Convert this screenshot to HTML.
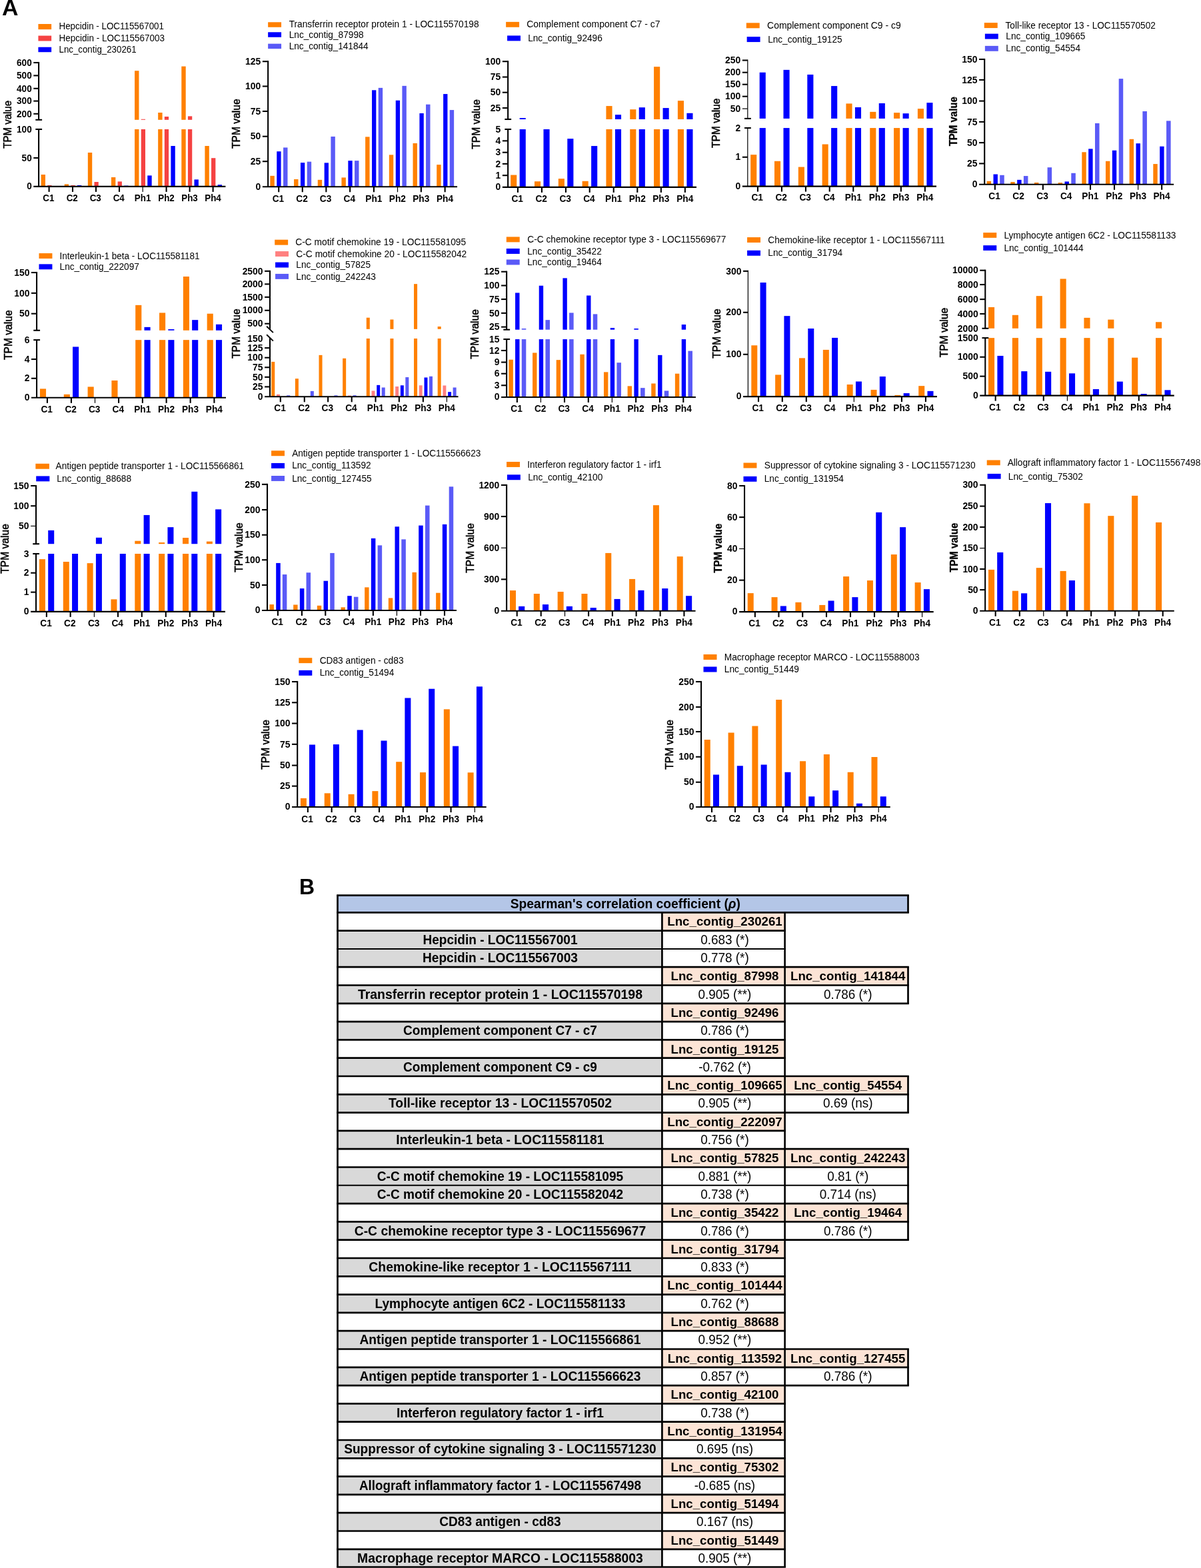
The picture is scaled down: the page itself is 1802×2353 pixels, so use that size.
<!DOCTYPE html>
<html lang="en"><head><meta charset="utf-8"><title>Figure</title>
<style>
html,body{margin:0;padding:0;background:#fff}
svg{display:block}
text{font-family:"Liberation Sans",Arial,Helvetica,sans-serif;fill:#000}
.b{font-weight:bold}
.m{stroke:#000;stroke-width:0.55px}
.m1{stroke:#000;stroke-width:0.45px}
.bb{font-weight:bold;stroke:#000;stroke-width:0.3px}
</style></head><body>
<svg width="1802" height="2353" viewBox="0 0 1802 2353">
<rect width="1802" height="2353" fill="#fff"/>
<g id="c1">
<rect x="61.6" y="262" width="6.4" height="17.9" fill="#FF8000"/>
<rect x="71.25" y="278" width="6.3" height="1.9" fill="#F54242"/>
<rect x="96.71" y="276.4" width="6.4" height="3.5" fill="#FF8000"/>
<rect x="106.36" y="278" width="6.3" height="1.9" fill="#F54242"/>
<rect x="115.91" y="278" width="6.4" height="1.9" fill="#0000FF"/>
<rect x="131.83" y="229" width="6.4" height="50.9" fill="#FF8000"/>
<rect x="141.48" y="273" width="6.3" height="6.9" fill="#F54242"/>
<rect x="166.94" y="266" width="6.4" height="13.9" fill="#FF8000"/>
<rect x="176.59" y="272.4" width="6.3" height="7.5" fill="#F54242"/>
<rect x="186.14" y="278.6" width="6.4" height="1.3" fill="#0000FF"/>
<rect x="202.06" y="194" width="6.4" height="85.9" fill="#FF8000"/>
<rect x="202.06" y="106.2" width="6.4" height="73.6" fill="#FF8000"/>
<rect x="211.71" y="194" width="6.3" height="85.9" fill="#F54242"/>
<rect x="211.71" y="178.8" width="6.3" height="1" fill="#F54242"/>
<rect x="221.26" y="263.4" width="6.4" height="16.5" fill="#0000FF"/>
<rect x="237.17" y="194" width="6.4" height="85.9" fill="#FF8000"/>
<rect x="237.17" y="169" width="6.4" height="10.8" fill="#FF8000"/>
<rect x="246.82" y="194" width="6.3" height="85.9" fill="#F54242"/>
<rect x="246.82" y="175" width="6.3" height="4.8" fill="#F54242"/>
<rect x="256.37" y="219" width="6.4" height="60.9" fill="#0000FF"/>
<rect x="272.29" y="194" width="6.4" height="85.9" fill="#FF8000"/>
<rect x="272.29" y="99.6" width="6.4" height="80.2" fill="#FF8000"/>
<rect x="281.94" y="194" width="6.3" height="85.9" fill="#F54242"/>
<rect x="281.94" y="174.4" width="6.3" height="5.4" fill="#F54242"/>
<rect x="291.49" y="269.4" width="6.4" height="10.5" fill="#0000FF"/>
<rect x="307.4" y="219" width="6.4" height="60.9" fill="#FF8000"/>
<rect x="317.05" y="237.2" width="6.3" height="42.7" fill="#F54242"/>
<rect x="326.6" y="277.2" width="6.4" height="2.7" fill="#0000FF"/>
<line x1="58.1" y1="92.95" x2="58.1" y2="179.8" stroke="#000" stroke-width="2.1"/>
<line x1="58.1" y1="194" x2="58.1" y2="279.9" stroke="#000" stroke-width="2.1"/>
<line x1="53.3" y1="179.8" x2="63.1" y2="179.8" stroke="#000" stroke-width="2.1"/>
<line x1="53.3" y1="194" x2="63.1" y2="194" stroke="#000" stroke-width="2.1"/>
<line x1="50.3" y1="279.9" x2="338.4" y2="279.9" stroke="#000" stroke-width="2.1"/>
<line x1="50.3" y1="94" x2="58.1" y2="94" stroke="#000" stroke-width="2.1"/>
<text font-size="13.6" class="b" text-anchor="end" transform="translate(47.7 98.7) scale(1 1.04)">600</text>
<line x1="50.3" y1="113.4" x2="58.1" y2="113.4" stroke="#000" stroke-width="2.1"/>
<text font-size="13.6" class="b" text-anchor="end" transform="translate(47.7 118.1) scale(1 1.04)">500</text>
<line x1="50.3" y1="132.8" x2="58.1" y2="132.8" stroke="#000" stroke-width="2.1"/>
<text font-size="13.6" class="b" text-anchor="end" transform="translate(47.7 137.5) scale(1 1.04)">400</text>
<line x1="50.3" y1="151.6" x2="58.1" y2="151.6" stroke="#000" stroke-width="2.1"/>
<text font-size="13.6" class="b" text-anchor="end" transform="translate(47.7 156.3) scale(1 1.04)">300</text>
<line x1="50.3" y1="170.8" x2="58.1" y2="170.8" stroke="#000" stroke-width="2.1"/>
<text font-size="13.6" class="b" text-anchor="end" transform="translate(47.7 175.5) scale(1 1.04)">200</text>
<text font-size="13.6" class="b" text-anchor="end" transform="translate(47.7 198.7) scale(1 1.04)">100</text>
<line x1="50.3" y1="237" x2="58.1" y2="237" stroke="#000" stroke-width="2.1"/>
<text font-size="13.6" class="b" text-anchor="end" transform="translate(47.7 241.7) scale(1 1.04)">50</text>
<text font-size="13.6" class="b" text-anchor="end" transform="translate(47.7 284.3) scale(1 1.04)">0</text>
<line x1="73.6" y1="279.9" x2="73.6" y2="287.95" stroke="#000" stroke-width="2.1"/>
<text font-size="13.4" class="b" text-anchor="middle" transform="translate(72.8 301.8) scale(1 1.04)">C1</text>
<line x1="109" y1="279.9" x2="109" y2="287.95" stroke="#000" stroke-width="2.1"/>
<text font-size="13.4" class="b" text-anchor="middle" transform="translate(108.2 301.8) scale(1 1.04)">C2</text>
<line x1="144" y1="279.9" x2="144" y2="287.95" stroke="#000" stroke-width="2.1"/>
<text font-size="13.4" class="b" text-anchor="middle" transform="translate(143.2 301.8) scale(1 1.04)">C3</text>
<line x1="179" y1="279.9" x2="179" y2="287.95" stroke="#000" stroke-width="2.1"/>
<text font-size="13.4" class="b" text-anchor="middle" transform="translate(178.2 301.8) scale(1 1.04)">C4</text>
<line x1="214.2" y1="279.9" x2="214.2" y2="287.95" stroke="#000" stroke-width="1.2"/>
<text font-size="13.4" class="b" text-anchor="middle" transform="translate(214.1 301.8) scale(1 1.04)">Ph1</text>
<line x1="249.6" y1="279.9" x2="249.6" y2="287.95" stroke="#000" stroke-width="2.1"/>
<text font-size="13.4" class="b" text-anchor="middle" transform="translate(249.5 301.8) scale(1 1.04)">Ph2</text>
<line x1="284.6" y1="279.9" x2="284.6" y2="287.95" stroke="#000" stroke-width="2.1"/>
<text font-size="13.4" class="b" text-anchor="middle" transform="translate(284.5 301.8) scale(1 1.04)">Ph3</text>
<line x1="319.6" y1="279.9" x2="319.6" y2="287.95" stroke="#000" stroke-width="2.1"/>
<text font-size="13.4" class="b" text-anchor="middle" transform="translate(319.5 301.8) scale(1 1.04)">Ph4</text>
<text font-size="15" class="m1" text-anchor="middle" transform="translate(17.25 186.85) rotate(-90) scale(1 1.04)">TPM value</text>
<rect x="57.43" y="36" width="19.71" height="8.14" fill="#FF8000"/>
<text font-size="13.39" transform="translate(88.5 44.36) scale(1 1.04)">Hepcidin - LOC115567001</text>
<rect x="57.43" y="53.57" width="19.71" height="7.93" fill="#F54242"/>
<text font-size="13.48" transform="translate(88.5 61.71) scale(1 1.04)">Hepcidin - LOC115567003</text>
<rect x="57.43" y="70.71" width="19.71" height="7.5" fill="#0000FF"/>
<text font-size="13.31" transform="translate(88.5 78.86) scale(1 1.04)">Lnc_contig_230261</text>
</g>
<g id="c2">
<rect x="405.36" y="263.86" width="6.43" height="16.37" fill="#FF8000"/>
<rect x="415.27" y="227.21" width="6.32" height="53.01" fill="#0000FF"/>
<rect x="425.07" y="221.43" width="6.43" height="58.8" fill="#5A5AF7"/>
<rect x="441.05" y="269" width="6.43" height="11.23" fill="#FF8000"/>
<rect x="450.96" y="244.14" width="6.32" height="36.09" fill="#0000FF"/>
<rect x="460.73" y="242.64" width="6.43" height="37.59" fill="#5A5AF7"/>
<rect x="476.74" y="269.86" width="6.43" height="10.37" fill="#FF8000"/>
<rect x="486.66" y="244.36" width="6.32" height="35.87" fill="#0000FF"/>
<rect x="496.4" y="204.93" width="6.43" height="75.3" fill="#5A5AF7"/>
<rect x="512.44" y="266.43" width="6.43" height="13.8" fill="#FF8000"/>
<rect x="522.35" y="241.14" width="6.32" height="39.09" fill="#0000FF"/>
<rect x="532.06" y="241.14" width="6.43" height="39.09" fill="#5A5AF7"/>
<rect x="548.13" y="205.36" width="6.43" height="74.87" fill="#FF8000"/>
<rect x="558.04" y="135.29" width="6.32" height="144.94" fill="#0000FF"/>
<rect x="567.72" y="131.86" width="6.43" height="148.37" fill="#5A5AF7"/>
<rect x="583.83" y="232.36" width="6.43" height="47.87" fill="#FF8000"/>
<rect x="593.74" y="150.71" width="6.32" height="129.51" fill="#0000FF"/>
<rect x="603.39" y="128.86" width="6.43" height="151.37" fill="#5A5AF7"/>
<rect x="619.52" y="215" width="6.43" height="65.23" fill="#FF8000"/>
<rect x="629.43" y="170" width="6.32" height="110.23" fill="#0000FF"/>
<rect x="639.05" y="156.71" width="6.43" height="123.51" fill="#5A5AF7"/>
<rect x="655.21" y="247.14" width="6.43" height="33.09" fill="#FF8000"/>
<rect x="665.12" y="141.07" width="6.32" height="139.16" fill="#0000FF"/>
<rect x="674.71" y="165.07" width="6.43" height="115.16" fill="#5A5AF7"/>
<line x1="402.14" y1="91.16" x2="402.14" y2="280.23" stroke="#000" stroke-width="2.1"/>
<line x1="393.87" y1="280.23" x2="686.07" y2="280.23" stroke="#000" stroke-width="2.1"/>
<line x1="393.87" y1="92.21" x2="402.14" y2="92.21" stroke="#000" stroke-width="2.1"/>
<text font-size="13.9" class="b" text-anchor="end" transform="translate(391.27 96.91) scale(1 1.04)">125</text>
<line x1="393.87" y1="129.5" x2="402.14" y2="129.5" stroke="#000" stroke-width="2.1"/>
<text font-size="13.9" class="b" text-anchor="end" transform="translate(391.27 134.2) scale(1 1.04)">100</text>
<line x1="393.87" y1="167" x2="402.14" y2="167" stroke="#000" stroke-width="2.1"/>
<text font-size="13.9" class="b" text-anchor="end" transform="translate(391.27 171.7) scale(1 1.04)">75</text>
<line x1="393.87" y1="204.71" x2="402.14" y2="204.71" stroke="#000" stroke-width="2.1"/>
<text font-size="13.9" class="b" text-anchor="end" transform="translate(391.27 209.41) scale(1 1.04)">50</text>
<line x1="393.87" y1="242.21" x2="402.14" y2="242.21" stroke="#000" stroke-width="2.1"/>
<text font-size="13.9" class="b" text-anchor="end" transform="translate(391.27 246.91) scale(1 1.04)">25</text>
<text font-size="13.9" class="b" text-anchor="end" transform="translate(391.27 284.63) scale(1 1.04)">0</text>
<line x1="418.21" y1="280.23" x2="418.21" y2="288.28" stroke="#000" stroke-width="2.1"/>
<text font-size="13.7" class="b" text-anchor="middle" transform="translate(417.41 302.63) scale(1 1.04)">C1</text>
<line x1="453.79" y1="280.23" x2="453.79" y2="288.28" stroke="#000" stroke-width="2.1"/>
<text font-size="13.7" class="b" text-anchor="middle" transform="translate(452.99 302.63) scale(1 1.04)">C2</text>
<line x1="489.36" y1="280.23" x2="489.36" y2="288.28" stroke="#000" stroke-width="2.1"/>
<text font-size="13.7" class="b" text-anchor="middle" transform="translate(488.56 302.63) scale(1 1.04)">C3</text>
<line x1="525.14" y1="280.23" x2="525.14" y2="288.28" stroke="#000" stroke-width="2.1"/>
<text font-size="13.7" class="b" text-anchor="middle" transform="translate(524.34 302.63) scale(1 1.04)">C4</text>
<line x1="560.93" y1="280.23" x2="560.93" y2="288.28" stroke="#000" stroke-width="2.1"/>
<text font-size="13.7" class="b" text-anchor="middle" transform="translate(560.83 302.63) scale(1 1.04)">Ph1</text>
<line x1="596.5" y1="280.23" x2="596.5" y2="288.28" stroke="#000" stroke-width="1.2"/>
<text font-size="13.7" class="b" text-anchor="middle" transform="translate(596.4 302.63) scale(1 1.04)">Ph2</text>
<line x1="631.86" y1="280.23" x2="631.86" y2="288.28" stroke="#000" stroke-width="2.1"/>
<text font-size="13.7" class="b" text-anchor="middle" transform="translate(631.76 302.63) scale(1 1.04)">Ph3</text>
<line x1="667.64" y1="280.23" x2="667.64" y2="288.28" stroke="#000" stroke-width="2.1"/>
<text font-size="13.7" class="b" text-anchor="middle" transform="translate(667.54 302.63) scale(1 1.04)">Ph4</text>
<text font-size="15.6" class="m" text-anchor="middle" transform="translate(360.2 185.65) rotate(-90)">TPM value</text>
<rect x="402.14" y="33.29" width="19.93" height="7.5" fill="#FF8000"/>
<text font-size="13.72" transform="translate(433.64 41.43) scale(1 1.04)">Transferrin receptor protein 1 - LOC115570198</text>
<rect x="402.14" y="48.29" width="19.93" height="7.5" fill="#0000FF"/>
<text font-size="13.72" transform="translate(433.64 56.86) scale(1 1.04)">Lnc_contig_87998</text>
<rect x="402.14" y="65.64" width="19.93" height="7.5" fill="#5A5AF7"/>
<text font-size="13.65" transform="translate(433.64 74) scale(1 1.04)">Lnc_contig_141844</text>
</g>
<g id="c3">
<rect x="766.16" y="262.57" width="9.11" height="18.3" fill="#FF8000"/>
<rect x="779.66" y="194" width="9.11" height="86.87" fill="#0000FF"/>
<rect x="779.66" y="177.07" width="9.11" height="1.93" fill="#0000FF"/>
<rect x="801.98" y="272.21" width="9.11" height="8.66" fill="#FF8000"/>
<rect x="815.48" y="194" width="9.11" height="86.87" fill="#0000FF"/>
<rect x="837.79" y="268.14" width="9.11" height="12.73" fill="#FF8000"/>
<rect x="851.29" y="208.14" width="9.11" height="72.73" fill="#0000FF"/>
<rect x="873.61" y="271.79" width="9.11" height="9.09" fill="#FF8000"/>
<rect x="887.11" y="219.07" width="9.11" height="61.8" fill="#0000FF"/>
<rect x="909.43" y="194" width="9.11" height="86.87" fill="#FF8000"/>
<rect x="909.43" y="159.07" width="9.11" height="19.93" fill="#FF8000"/>
<rect x="922.93" y="194" width="9.11" height="86.87" fill="#0000FF"/>
<rect x="922.93" y="172.14" width="9.11" height="6.86" fill="#0000FF"/>
<rect x="945.24" y="194" width="9.11" height="86.87" fill="#FF8000"/>
<rect x="945.24" y="164.21" width="9.11" height="14.79" fill="#FF8000"/>
<rect x="958.74" y="194" width="9.11" height="86.87" fill="#0000FF"/>
<rect x="958.74" y="161.21" width="9.11" height="17.79" fill="#0000FF"/>
<rect x="981.06" y="194" width="9.11" height="86.87" fill="#FF8000"/>
<rect x="981.06" y="100.14" width="9.11" height="78.86" fill="#FF8000"/>
<rect x="994.56" y="194" width="9.11" height="86.87" fill="#0000FF"/>
<rect x="994.56" y="162.07" width="9.11" height="16.93" fill="#0000FF"/>
<rect x="1016.88" y="194" width="9.11" height="86.87" fill="#FF8000"/>
<rect x="1016.88" y="151.14" width="9.11" height="27.86" fill="#FF8000"/>
<rect x="1030.38" y="194" width="9.11" height="86.87" fill="#0000FF"/>
<rect x="1030.38" y="169.79" width="9.11" height="9.21" fill="#0000FF"/>
<line x1="762.14" y1="91.16" x2="762.14" y2="179" stroke="#000" stroke-width="2.1"/>
<line x1="762.14" y1="194" x2="762.14" y2="280.87" stroke="#000" stroke-width="2.1"/>
<line x1="757.34" y1="179" x2="767.14" y2="179" stroke="#000" stroke-width="2.1"/>
<line x1="757.34" y1="194" x2="767.14" y2="194" stroke="#000" stroke-width="2.1"/>
<line x1="753.87" y1="280.87" x2="1045" y2="280.87" stroke="#000" stroke-width="2.1"/>
<line x1="753.87" y1="92.21" x2="762.14" y2="92.21" stroke="#000" stroke-width="2.1"/>
<text font-size="13.9" class="b" text-anchor="end" transform="translate(751.27 96.91) scale(1 1.04)">100</text>
<line x1="753.87" y1="115.57" x2="762.14" y2="115.57" stroke="#000" stroke-width="2.1"/>
<text font-size="13.9" class="b" text-anchor="end" transform="translate(751.27 120.27) scale(1 1.04)">75</text>
<line x1="753.87" y1="138.71" x2="762.14" y2="138.71" stroke="#000" stroke-width="2.1"/>
<text font-size="13.9" class="b" text-anchor="end" transform="translate(751.27 143.41) scale(1 1.04)">50</text>
<line x1="753.87" y1="162.07" x2="762.14" y2="162.07" stroke="#000" stroke-width="2.1"/>
<text font-size="13.9" class="b" text-anchor="end" transform="translate(751.27 166.77) scale(1 1.04)">25</text>
<text font-size="13.9" class="b" text-anchor="end" transform="translate(751.27 198.7) scale(1 1.04)">5</text>
<line x1="753.87" y1="211.36" x2="762.14" y2="211.36" stroke="#000" stroke-width="2.1"/>
<text font-size="13.9" class="b" text-anchor="end" transform="translate(751.27 216.06) scale(1 1.04)">4</text>
<line x1="753.87" y1="228.71" x2="762.14" y2="228.71" stroke="#000" stroke-width="2.1"/>
<text font-size="13.9" class="b" text-anchor="end" transform="translate(751.27 233.41) scale(1 1.04)">3</text>
<line x1="753.87" y1="245.86" x2="762.14" y2="245.86" stroke="#000" stroke-width="2.1"/>
<text font-size="13.9" class="b" text-anchor="end" transform="translate(751.27 250.56) scale(1 1.04)">2</text>
<line x1="753.87" y1="263.21" x2="762.14" y2="263.21" stroke="#000" stroke-width="2.1"/>
<text font-size="13.9" class="b" text-anchor="end" transform="translate(751.27 267.91) scale(1 1.04)">1</text>
<text font-size="13.9" class="b" text-anchor="end" transform="translate(751.27 285.27) scale(1 1.04)">0</text>
<line x1="776.93" y1="280.87" x2="776.93" y2="288.92" stroke="#000" stroke-width="2.1"/>
<text font-size="13.7" class="b" text-anchor="middle" transform="translate(776.13 302.63) scale(1 1.04)">C1</text>
<line x1="812.93" y1="280.87" x2="812.93" y2="288.92" stroke="#000" stroke-width="2.1"/>
<text font-size="13.7" class="b" text-anchor="middle" transform="translate(812.13 302.63) scale(1 1.04)">C2</text>
<line x1="848.93" y1="280.87" x2="848.93" y2="288.92" stroke="#000" stroke-width="2.1"/>
<text font-size="13.7" class="b" text-anchor="middle" transform="translate(848.13 302.63) scale(1 1.04)">C3</text>
<line x1="884.71" y1="280.87" x2="884.71" y2="288.92" stroke="#000" stroke-width="2.1"/>
<text font-size="13.7" class="b" text-anchor="middle" transform="translate(883.91 302.63) scale(1 1.04)">C4</text>
<line x1="920.71" y1="280.87" x2="920.71" y2="288.92" stroke="#000" stroke-width="2.1"/>
<text font-size="13.7" class="b" text-anchor="middle" transform="translate(920.61 302.63) scale(1 1.04)">Ph1</text>
<line x1="956.29" y1="280.87" x2="956.29" y2="288.92" stroke="#000" stroke-width="2.1"/>
<text font-size="13.7" class="b" text-anchor="middle" transform="translate(956.19 302.63) scale(1 1.04)">Ph2</text>
<line x1="991.86" y1="280.87" x2="991.86" y2="288.92" stroke="#000" stroke-width="2.1"/>
<text font-size="13.7" class="b" text-anchor="middle" transform="translate(991.76 302.63) scale(1 1.04)">Ph3</text>
<line x1="1027.86" y1="280.87" x2="1027.86" y2="288.92" stroke="#000" stroke-width="2.1"/>
<text font-size="13.7" class="b" text-anchor="middle" transform="translate(1027.76 302.63) scale(1 1.04)">Ph4</text>
<text font-size="15.6" class="m" text-anchor="middle" transform="translate(720.24 186.4) rotate(-90)">TPM value</text>
<rect x="759.14" y="32.86" width="19.93" height="7.93" fill="#FF8000"/>
<text font-size="13.92" transform="translate(790.21 41.43) scale(1 1.04)">Complement component C7 - c7</text>
<rect x="761.07" y="53.43" width="19.93" height="7.93" fill="#0000FF"/>
<text font-size="13.67" transform="translate(792.14 62) scale(1 1.04)">Lnc_contig_92496</text>
</g>
<g id="c4">
<rect x="1126.16" y="232.14" width="9.11" height="47.44" fill="#FF8000"/>
<rect x="1139.66" y="192.07" width="9.11" height="87.51" fill="#0000FF"/>
<rect x="1139.66" y="108.71" width="9.11" height="69.21" fill="#0000FF"/>
<rect x="1161.98" y="241.79" width="9.11" height="37.8" fill="#FF8000"/>
<rect x="1175.48" y="192.07" width="9.11" height="87.51" fill="#0000FF"/>
<rect x="1175.48" y="104.86" width="9.11" height="73.07" fill="#0000FF"/>
<rect x="1197.79" y="250.57" width="9.11" height="29.01" fill="#FF8000"/>
<rect x="1211.29" y="192.07" width="9.11" height="87.51" fill="#0000FF"/>
<rect x="1211.29" y="111.93" width="9.11" height="66" fill="#0000FF"/>
<rect x="1233.61" y="216.5" width="9.11" height="63.09" fill="#FF8000"/>
<rect x="1247.11" y="192.07" width="9.11" height="87.51" fill="#0000FF"/>
<rect x="1247.11" y="129.07" width="9.11" height="48.86" fill="#0000FF"/>
<rect x="1269.43" y="192.07" width="9.11" height="87.51" fill="#FF8000"/>
<rect x="1269.43" y="155.43" width="9.11" height="22.5" fill="#FF8000"/>
<rect x="1282.93" y="192.07" width="9.11" height="87.51" fill="#0000FF"/>
<rect x="1282.93" y="161" width="9.11" height="16.93" fill="#0000FF"/>
<rect x="1305.24" y="192.07" width="9.11" height="87.51" fill="#FF8000"/>
<rect x="1305.24" y="167.86" width="9.11" height="10.07" fill="#FF8000"/>
<rect x="1318.74" y="192.07" width="9.11" height="87.51" fill="#0000FF"/>
<rect x="1318.74" y="155" width="9.11" height="22.93" fill="#0000FF"/>
<rect x="1341.06" y="192.07" width="9.11" height="87.51" fill="#FF8000"/>
<rect x="1341.06" y="169.14" width="9.11" height="8.79" fill="#FF8000"/>
<rect x="1354.56" y="192.07" width="9.11" height="87.51" fill="#0000FF"/>
<rect x="1354.56" y="170.21" width="9.11" height="7.71" fill="#0000FF"/>
<rect x="1376.88" y="192.07" width="9.11" height="87.51" fill="#FF8000"/>
<rect x="1376.88" y="163.14" width="9.11" height="14.79" fill="#FF8000"/>
<rect x="1390.38" y="192.07" width="9.11" height="87.51" fill="#0000FF"/>
<rect x="1390.38" y="154.14" width="9.11" height="23.79" fill="#0000FF"/>
<line x1="1121.8" y1="89.45" x2="1121.8" y2="177.93" stroke="#000" stroke-width="1.2"/>
<line x1="1121.8" y1="192.07" x2="1121.8" y2="279.59" stroke="#000" stroke-width="1.2"/>
<line x1="1117" y1="177.93" x2="1126.8" y2="177.93" stroke="#000" stroke-width="2.1"/>
<line x1="1117" y1="192.07" x2="1126.8" y2="192.07" stroke="#000" stroke-width="2.1"/>
<line x1="1113.87" y1="279.59" x2="1405" y2="279.59" stroke="#000" stroke-width="2.1"/>
<line x1="1113.87" y1="90.5" x2="1121.8" y2="90.5" stroke="#000" stroke-width="2.1"/>
<text font-size="13.9" class="b" text-anchor="end" transform="translate(1111.27 95.2) scale(1 1.04)">250</text>
<line x1="1113.87" y1="108.71" x2="1121.8" y2="108.71" stroke="#000" stroke-width="2.1"/>
<text font-size="13.9" class="b" text-anchor="end" transform="translate(1111.27 113.41) scale(1 1.04)">200</text>
<line x1="1113.87" y1="126.71" x2="1121.8" y2="126.71" stroke="#000" stroke-width="2.1"/>
<text font-size="13.9" class="b" text-anchor="end" transform="translate(1111.27 131.41) scale(1 1.04)">150</text>
<line x1="1113.87" y1="144.71" x2="1121.8" y2="144.71" stroke="#000" stroke-width="2.1"/>
<text font-size="13.9" class="b" text-anchor="end" transform="translate(1111.27 149.41) scale(1 1.04)">100</text>
<line x1="1113.87" y1="163.14" x2="1121.8" y2="163.14" stroke="#000" stroke-width="1.2"/>
<text font-size="13.9" class="b" text-anchor="end" transform="translate(1111.27 167.84) scale(1 1.04)">50</text>
<text font-size="13.9" class="b" text-anchor="end" transform="translate(1111.27 196.77) scale(1 1.04)">2</text>
<line x1="1113.87" y1="235.79" x2="1121.8" y2="235.79" stroke="#000" stroke-width="2.1"/>
<text font-size="13.9" class="b" text-anchor="end" transform="translate(1111.27 240.49) scale(1 1.04)">1</text>
<text font-size="13.9" class="b" text-anchor="end" transform="translate(1111.27 283.99) scale(1 1.04)">0</text>
<line x1="1136.93" y1="279.59" x2="1136.93" y2="287.64" stroke="#000" stroke-width="2.1"/>
<text font-size="13.7" class="b" text-anchor="middle" transform="translate(1136.13 301.34) scale(1 1.04)">C1</text>
<line x1="1172.93" y1="279.59" x2="1172.93" y2="287.64" stroke="#000" stroke-width="2.1"/>
<text font-size="13.7" class="b" text-anchor="middle" transform="translate(1172.13 301.34) scale(1 1.04)">C2</text>
<line x1="1208.93" y1="279.59" x2="1208.93" y2="287.64" stroke="#000" stroke-width="2.1"/>
<text font-size="13.7" class="b" text-anchor="middle" transform="translate(1208.13 301.34) scale(1 1.04)">C3</text>
<line x1="1244.71" y1="279.59" x2="1244.71" y2="287.64" stroke="#000" stroke-width="2.1"/>
<text font-size="13.7" class="b" text-anchor="middle" transform="translate(1243.91 301.34) scale(1 1.04)">C4</text>
<line x1="1280.29" y1="279.59" x2="1280.29" y2="287.64" stroke="#000" stroke-width="2.1"/>
<text font-size="13.7" class="b" text-anchor="middle" transform="translate(1280.19 301.34) scale(1 1.04)">Ph1</text>
<line x1="1316.29" y1="279.59" x2="1316.29" y2="287.64" stroke="#000" stroke-width="2.1"/>
<text font-size="13.7" class="b" text-anchor="middle" transform="translate(1316.19 301.34) scale(1 1.04)">Ph2</text>
<line x1="1351.86" y1="279.59" x2="1351.86" y2="287.64" stroke="#000" stroke-width="2.1"/>
<text font-size="13.7" class="b" text-anchor="middle" transform="translate(1351.76 301.34) scale(1 1.04)">Ph3</text>
<line x1="1387.86" y1="279.59" x2="1387.86" y2="287.64" stroke="#000" stroke-width="2.1"/>
<text font-size="13.7" class="b" text-anchor="middle" transform="translate(1387.76 301.34) scale(1 1.04)">Ph4</text>
<text font-size="15.6" class="m" text-anchor="middle" transform="translate(1079.75 184.8) rotate(-90)">TPM value</text>
<rect x="1119.79" y="34.36" width="19.93" height="7.93" fill="#FF8000"/>
<text font-size="13.94" transform="translate(1151.07 42.93) scale(1 1.04)">Complement component C9 - c9</text>
<rect x="1120.64" y="55.14" width="19.93" height="7.93" fill="#0000FF"/>
<text font-size="13.64" transform="translate(1152.14 63.5) scale(1 1.04)">Lnc_contig_19125</text>
</g>
<g id="c5">
<rect x="1480.64" y="271.79" width="6.43" height="5.01" fill="#FF8000"/>
<rect x="1490.5" y="261.5" width="6.43" height="15.3" fill="#0000FF"/>
<rect x="1500.2" y="262.79" width="6.54" height="14.01" fill="#5A5AF7"/>
<rect x="1516.31" y="273.07" width="6.43" height="3.73" fill="#FF8000"/>
<rect x="1526.16" y="269.86" width="6.43" height="6.94" fill="#0000FF"/>
<rect x="1535.89" y="264.07" width="6.54" height="12.73" fill="#5A5AF7"/>
<rect x="1551.97" y="273.93" width="6.43" height="2.87" fill="#FF8000"/>
<rect x="1571.58" y="251.21" width="6.54" height="25.59" fill="#5A5AF7"/>
<rect x="1587.63" y="274.14" width="6.43" height="2.66" fill="#FF8000"/>
<rect x="1597.49" y="272.43" width="6.43" height="4.37" fill="#0000FF"/>
<rect x="1607.28" y="259.79" width="6.54" height="17.01" fill="#5A5AF7"/>
<rect x="1623.3" y="228.29" width="6.43" height="48.51" fill="#FF8000"/>
<rect x="1633.15" y="223.36" width="6.43" height="53.44" fill="#0000FF"/>
<rect x="1642.97" y="185" width="6.54" height="91.8" fill="#5A5AF7"/>
<rect x="1658.96" y="241.79" width="6.43" height="35.01" fill="#FF8000"/>
<rect x="1668.82" y="225.71" width="6.43" height="51.09" fill="#0000FF"/>
<rect x="1678.67" y="118.14" width="6.54" height="158.66" fill="#5A5AF7"/>
<rect x="1694.62" y="208.79" width="6.43" height="68.01" fill="#FF8000"/>
<rect x="1704.48" y="215.21" width="6.43" height="61.59" fill="#0000FF"/>
<rect x="1714.36" y="167" width="6.54" height="109.8" fill="#5A5AF7"/>
<rect x="1730.29" y="246.07" width="6.43" height="30.73" fill="#FF8000"/>
<rect x="1740.14" y="219.71" width="6.43" height="57.09" fill="#0000FF"/>
<rect x="1750.05" y="181.36" width="6.54" height="95.44" fill="#5A5AF7"/>
<line x1="1477.2" y1="87.95" x2="1477.2" y2="276.8" stroke="#000" stroke-width="2.1"/>
<line x1="1469.05" y1="276.8" x2="1761.14" y2="276.8" stroke="#000" stroke-width="2.1"/>
<line x1="1469.05" y1="89" x2="1477.2" y2="89" stroke="#000" stroke-width="2.1"/>
<text font-size="13.9" class="b" text-anchor="end" transform="translate(1466.45 93.7) scale(1 1.04)">150</text>
<line x1="1469.05" y1="119.86" x2="1477.2" y2="119.86" stroke="#000" stroke-width="2.1"/>
<text font-size="13.9" class="b" text-anchor="end" transform="translate(1466.45 124.56) scale(1 1.04)">125</text>
<line x1="1469.05" y1="151.57" x2="1477.2" y2="151.57" stroke="#000" stroke-width="2.1"/>
<text font-size="13.9" class="b" text-anchor="end" transform="translate(1466.45 156.27) scale(1 1.04)">100</text>
<line x1="1469.05" y1="182.86" x2="1477.2" y2="182.86" stroke="#000" stroke-width="2.1"/>
<text font-size="13.9" class="b" text-anchor="end" transform="translate(1466.45 187.56) scale(1 1.04)">75</text>
<line x1="1469.05" y1="214.14" x2="1477.2" y2="214.14" stroke="#000" stroke-width="2.1"/>
<text font-size="13.9" class="b" text-anchor="end" transform="translate(1466.45 218.84) scale(1 1.04)">50</text>
<line x1="1469.05" y1="245.43" x2="1477.2" y2="245.43" stroke="#000" stroke-width="2.1"/>
<text font-size="13.9" class="b" text-anchor="end" transform="translate(1466.45 250.13) scale(1 1.04)">25</text>
<text font-size="13.9" class="b" text-anchor="end" transform="translate(1466.45 281.2) scale(1 1.04)">0</text>
<line x1="1492.86" y1="276.8" x2="1492.86" y2="284.85" stroke="#000" stroke-width="2.1"/>
<text font-size="13.7" class="b" text-anchor="middle" transform="translate(1492.06 299.41) scale(1 1.04)">C1</text>
<line x1="1528.86" y1="276.8" x2="1528.86" y2="284.85" stroke="#000" stroke-width="2.1"/>
<text font-size="13.7" class="b" text-anchor="middle" transform="translate(1528.06 299.41) scale(1 1.04)">C2</text>
<line x1="1564.86" y1="276.8" x2="1564.86" y2="284.85" stroke="#000" stroke-width="2.1"/>
<text font-size="13.7" class="b" text-anchor="middle" transform="translate(1564.06 299.41) scale(1 1.04)">C3</text>
<line x1="1600.43" y1="276.8" x2="1600.43" y2="284.85" stroke="#000" stroke-width="2.1"/>
<text font-size="13.7" class="b" text-anchor="middle" transform="translate(1599.63 299.41) scale(1 1.04)">C4</text>
<line x1="1636" y1="276.8" x2="1636" y2="284.85" stroke="#000" stroke-width="2.1"/>
<text font-size="13.7" class="b" text-anchor="middle" transform="translate(1635.9 299.41) scale(1 1.04)">Ph1</text>
<line x1="1672" y1="276.8" x2="1672" y2="284.85" stroke="#000" stroke-width="2.1"/>
<text font-size="13.7" class="b" text-anchor="middle" transform="translate(1671.9 299.41) scale(1 1.04)">Ph2</text>
<line x1="1707.57" y1="276.8" x2="1707.57" y2="284.85" stroke="#000" stroke-width="1.2"/>
<text font-size="13.7" class="b" text-anchor="middle" transform="translate(1707.47 299.41) scale(1 1.04)">Ph3</text>
<line x1="1743.14" y1="276.8" x2="1743.14" y2="284.85" stroke="#000" stroke-width="2.1"/>
<text font-size="13.7" class="b" text-anchor="middle" transform="translate(1743.04 299.41) scale(1 1.04)">Ph4</text>
<text font-size="15" class="bb" text-anchor="middle" transform="translate(1435.7 182.25) rotate(-90) scale(1 1.07)">TPM value</text>
<rect x="1476.79" y="34.14" width="19.93" height="7.93" fill="#FF8000"/>
<text font-size="13.63" transform="translate(1508.5 42.71) scale(1 1.04)">Toll-like receptor 13 - LOC115570502</text>
<rect x="1477.86" y="50.64" width="19.93" height="7.93" fill="#0000FF"/>
<text font-size="13.65" transform="translate(1509.36 59.21) scale(1 1.04)">Lnc_contig_109665</text>
<rect x="1477.86" y="68.86" width="19.93" height="7.93" fill="#5A5AF7"/>
<text font-size="13.67" transform="translate(1509.36 77.43) scale(1 1.04)">Lnc_contig_54554</text>
</g>
<g id="c6">
<rect x="59.95" y="583.43" width="9.11" height="13.37" fill="#FF8000"/>
<rect x="95.76" y="591.79" width="9.11" height="5.01" fill="#FF8000"/>
<rect x="109.05" y="520.43" width="9.11" height="76.37" fill="#0000FF"/>
<rect x="131.58" y="580.43" width="9.11" height="16.37" fill="#FF8000"/>
<rect x="167.4" y="571" width="9.11" height="25.8" fill="#FF8000"/>
<rect x="203.21" y="510.14" width="9.11" height="86.66" fill="#FF8000"/>
<rect x="203.21" y="457.86" width="9.11" height="37.93" fill="#FF8000"/>
<rect x="216.5" y="510.14" width="9.11" height="86.66" fill="#0000FF"/>
<rect x="216.5" y="490.86" width="9.11" height="4.93" fill="#0000FF"/>
<rect x="239.03" y="510.14" width="9.11" height="86.66" fill="#FF8000"/>
<rect x="239.03" y="469.43" width="9.11" height="26.36" fill="#FF8000"/>
<rect x="252.31" y="510.14" width="9.11" height="86.66" fill="#0000FF"/>
<rect x="252.31" y="494.07" width="9.11" height="1.71" fill="#0000FF"/>
<rect x="274.84" y="510.14" width="9.11" height="86.66" fill="#FF8000"/>
<rect x="274.84" y="415" width="9.11" height="80.79" fill="#FF8000"/>
<rect x="288.13" y="510.14" width="9.11" height="86.66" fill="#0000FF"/>
<rect x="288.13" y="480.14" width="9.11" height="15.64" fill="#0000FF"/>
<rect x="310.66" y="510.14" width="9.11" height="86.66" fill="#FF8000"/>
<rect x="310.66" y="470.71" width="9.11" height="25.07" fill="#FF8000"/>
<rect x="323.95" y="510.14" width="9.11" height="86.66" fill="#0000FF"/>
<rect x="323.95" y="486.79" width="9.11" height="9" fill="#0000FF"/>
<line x1="55.06" y1="407.95" x2="55.06" y2="495.79" stroke="#000" stroke-width="2.1"/>
<line x1="55.06" y1="510.14" x2="55.06" y2="596.8" stroke="#000" stroke-width="2.1"/>
<line x1="50.26" y1="495.79" x2="60.06" y2="495.79" stroke="#000" stroke-width="2.1"/>
<line x1="50.26" y1="510.14" x2="60.06" y2="510.14" stroke="#000" stroke-width="2.1"/>
<line x1="47.02" y1="596.8" x2="339" y2="596.8" stroke="#000" stroke-width="2.1"/>
<line x1="47.02" y1="409" x2="55.06" y2="409" stroke="#000" stroke-width="2.1"/>
<text font-size="13.9" class="b" text-anchor="end" transform="translate(44.42 413.7) scale(1 1.04)">150</text>
<line x1="47.02" y1="439.86" x2="55.06" y2="439.86" stroke="#000" stroke-width="2.1"/>
<text font-size="13.9" class="b" text-anchor="end" transform="translate(44.42 444.56) scale(1 1.04)">100</text>
<line x1="47.02" y1="470.71" x2="55.06" y2="470.71" stroke="#000" stroke-width="2.1"/>
<text font-size="13.9" class="b" text-anchor="end" transform="translate(44.42 475.41) scale(1 1.04)">50</text>
<text font-size="13.9" class="b" text-anchor="end" transform="translate(44.42 514.84) scale(1 1.04)">6</text>
<line x1="47.02" y1="539.07" x2="55.06" y2="539.07" stroke="#000" stroke-width="2.1"/>
<text font-size="13.9" class="b" text-anchor="end" transform="translate(44.42 543.77) scale(1 1.04)">4</text>
<line x1="47.02" y1="567.79" x2="55.06" y2="567.79" stroke="#000" stroke-width="2.1"/>
<text font-size="13.9" class="b" text-anchor="end" transform="translate(44.42 572.49) scale(1 1.04)">2</text>
<text font-size="13.9" class="b" text-anchor="end" transform="translate(44.42 601.2) scale(1 1.04)">0</text>
<line x1="70.93" y1="596.8" x2="70.93" y2="604.85" stroke="#000" stroke-width="2.1"/>
<text font-size="13.7" class="b" text-anchor="middle" transform="translate(70.13 619.41) scale(1 1.04)">C1</text>
<line x1="106.93" y1="596.8" x2="106.93" y2="604.85" stroke="#000" stroke-width="2.1"/>
<text font-size="13.7" class="b" text-anchor="middle" transform="translate(106.13 619.41) scale(1 1.04)">C2</text>
<line x1="142.5" y1="596.8" x2="142.5" y2="604.85" stroke="#000" stroke-width="1.2"/>
<text font-size="13.7" class="b" text-anchor="middle" transform="translate(141.7 619.41) scale(1 1.04)">C3</text>
<line x1="178.07" y1="596.8" x2="178.07" y2="604.85" stroke="#000" stroke-width="2.1"/>
<text font-size="13.7" class="b" text-anchor="middle" transform="translate(177.27 619.41) scale(1 1.04)">C4</text>
<line x1="213.86" y1="596.8" x2="213.86" y2="604.85" stroke="#000" stroke-width="2.1"/>
<text font-size="13.7" class="b" text-anchor="middle" transform="translate(213.76 619.41) scale(1 1.04)">Ph1</text>
<line x1="249.64" y1="596.8" x2="249.64" y2="604.85" stroke="#000" stroke-width="2.1"/>
<text font-size="13.7" class="b" text-anchor="middle" transform="translate(249.54 619.41) scale(1 1.04)">Ph2</text>
<line x1="285.64" y1="596.8" x2="285.64" y2="604.85" stroke="#000" stroke-width="2.1"/>
<text font-size="13.7" class="b" text-anchor="middle" transform="translate(285.54 619.41) scale(1 1.04)">Ph3</text>
<line x1="321.43" y1="596.8" x2="321.43" y2="604.85" stroke="#000" stroke-width="2.1"/>
<text font-size="13.7" class="b" text-anchor="middle" transform="translate(321.33 619.41) scale(1 1.04)">Ph4</text>
<text font-size="15.6" class="m" text-anchor="middle" transform="translate(18.45 502.7) rotate(-90)">TPM value</text>
<rect x="58.5" y="380.07" width="19.93" height="7.93" fill="#FF8000"/>
<text font-size="13.53" transform="translate(89.57 388.64) scale(1 1.04)">Interleukin-1 beta - LOC115581181</text>
<rect x="58.5" y="396.36" width="19.93" height="7.93" fill="#0000FF"/>
<text font-size="13.68" transform="translate(89.57 404.93) scale(1 1.04)">Lnc_contig_222097</text>
</g>
<g id="c7">
<rect x="407.23" y="542.93" width="5.04" height="52.37" fill="#FF8000"/>
<rect x="415" y="591.79" width="4.93" height="3.51" fill="#FF8080"/>
<rect x="430.16" y="593.29" width="5.04" height="2.01" fill="#5A5AF7"/>
<rect x="442.86" y="568.21" width="5.04" height="27.09" fill="#FF8000"/>
<rect x="465.79" y="586.86" width="5.04" height="8.44" fill="#5A5AF7"/>
<rect x="478.5" y="532.86" width="5.04" height="62.44" fill="#FF8000"/>
<rect x="501.43" y="593.29" width="5.04" height="2.01" fill="#5A5AF7"/>
<rect x="514.13" y="537.79" width="5.04" height="57.51" fill="#FF8000"/>
<rect x="521.9" y="593.5" width="4.93" height="1.8" fill="#FF8080"/>
<rect x="529.61" y="593.5" width="4.93" height="1.8" fill="#0000FF"/>
<rect x="549.76" y="508" width="5.04" height="87.3" fill="#FF8000"/>
<rect x="549.76" y="476.71" width="5.04" height="17.14" fill="#FF8000"/>
<rect x="557.53" y="586.43" width="4.93" height="8.87" fill="#FF8080"/>
<rect x="565.24" y="577.86" width="4.93" height="17.44" fill="#0000FF"/>
<rect x="572.69" y="581.5" width="5.04" height="13.8" fill="#5A5AF7"/>
<rect x="585.4" y="508" width="5.04" height="87.3" fill="#FF8000"/>
<rect x="585.4" y="479.5" width="5.04" height="14.36" fill="#FF8000"/>
<rect x="593.16" y="580" width="4.93" height="15.3" fill="#FF8080"/>
<rect x="600.88" y="578.29" width="4.93" height="17.01" fill="#0000FF"/>
<rect x="608.32" y="566.07" width="5.04" height="29.23" fill="#5A5AF7"/>
<rect x="621.03" y="508" width="5.04" height="87.3" fill="#FF8000"/>
<rect x="621.03" y="426.14" width="5.04" height="67.71" fill="#FF8000"/>
<rect x="628.8" y="578.29" width="4.93" height="17.01" fill="#FF8080"/>
<rect x="636.51" y="566.5" width="4.93" height="28.8" fill="#0000FF"/>
<rect x="643.96" y="564.79" width="5.04" height="30.51" fill="#5A5AF7"/>
<rect x="656.66" y="508" width="5.04" height="87.3" fill="#FF8000"/>
<rect x="656.66" y="490" width="5.04" height="3.86" fill="#FF8000"/>
<rect x="664.43" y="578.5" width="4.93" height="16.8" fill="#FF8080"/>
<rect x="672.14" y="588.14" width="4.93" height="7.16" fill="#0000FF"/>
<rect x="679.59" y="581.5" width="5.04" height="13.8" fill="#5A5AF7"/>
<line x1="405" y1="405.81" x2="405" y2="494.41" stroke="#000" stroke-width="2.1"/>
<line x1="405" y1="506.91" x2="405" y2="595.3" stroke="#000" stroke-width="2.1"/>
<line x1="400.1" y1="489.71" x2="409.9" y2="499.11" stroke="#000" stroke-width="1.89"/>
<line x1="400.1" y1="502.21" x2="409.9" y2="511.61" stroke="#000" stroke-width="1.89"/>
<line x1="397.14" y1="595.3" x2="687.57" y2="595.3" stroke="#000" stroke-width="2.1"/>
<line x1="397.14" y1="406.86" x2="405" y2="406.86" stroke="#000" stroke-width="2.1"/>
<text font-size="13.9" class="b" text-anchor="end" transform="translate(394.54 411.56) scale(1 1.04)">2500</text>
<line x1="397.14" y1="426.36" x2="405" y2="426.36" stroke="#000" stroke-width="2.1"/>
<text font-size="13.9" class="b" text-anchor="end" transform="translate(394.54 431.06) scale(1 1.04)">2000</text>
<line x1="397.14" y1="445.86" x2="405" y2="445.86" stroke="#000" stroke-width="2.1"/>
<text font-size="13.9" class="b" text-anchor="end" transform="translate(394.54 450.56) scale(1 1.04)">1500</text>
<line x1="397.14" y1="465.79" x2="405" y2="465.79" stroke="#000" stroke-width="2.1"/>
<text font-size="13.9" class="b" text-anchor="end" transform="translate(394.54 470.49) scale(1 1.04)">1000</text>
<line x1="397.14" y1="485.71" x2="405" y2="485.71" stroke="#000" stroke-width="2.1"/>
<text font-size="13.9" class="b" text-anchor="end" transform="translate(394.54 490.41) scale(1 1.04)">500</text>
<text font-size="13.9" class="b" text-anchor="end" transform="translate(394.54 512.7) scale(1 1.04)">150</text>
<line x1="397.14" y1="522.14" x2="405" y2="522.14" stroke="#000" stroke-width="2.1"/>
<text font-size="13.9" class="b" text-anchor="end" transform="translate(394.54 526.84) scale(1 1.04)">125</text>
<line x1="397.14" y1="536.71" x2="405" y2="536.71" stroke="#000" stroke-width="2.1"/>
<text font-size="13.9" class="b" text-anchor="end" transform="translate(394.54 541.41) scale(1 1.04)">100</text>
<line x1="397.14" y1="551.29" x2="405" y2="551.29" stroke="#000" stroke-width="2.1"/>
<text font-size="13.9" class="b" text-anchor="end" transform="translate(394.54 555.99) scale(1 1.04)">75</text>
<line x1="397.14" y1="565.86" x2="405" y2="565.86" stroke="#000" stroke-width="2.1"/>
<text font-size="13.9" class="b" text-anchor="end" transform="translate(394.54 570.56) scale(1 1.04)">50</text>
<line x1="397.14" y1="580.43" x2="405" y2="580.43" stroke="#000" stroke-width="2.1"/>
<text font-size="13.9" class="b" text-anchor="end" transform="translate(394.54 585.13) scale(1 1.04)">25</text>
<text font-size="13.9" class="b" text-anchor="end" transform="translate(394.54 599.7) scale(1 1.04)">0</text>
<line x1="420.79" y1="595.3" x2="420.79" y2="603.35" stroke="#000" stroke-width="2.1"/>
<text font-size="13.7" class="b" text-anchor="middle" transform="translate(419.99 617.06) scale(1 1.04)">C1</text>
<line x1="456.79" y1="595.3" x2="456.79" y2="603.35" stroke="#000" stroke-width="2.1"/>
<text font-size="13.7" class="b" text-anchor="middle" transform="translate(455.99 617.06) scale(1 1.04)">C2</text>
<line x1="492.14" y1="595.3" x2="492.14" y2="603.35" stroke="#000" stroke-width="2.1"/>
<text font-size="13.7" class="b" text-anchor="middle" transform="translate(491.34 617.06) scale(1 1.04)">C3</text>
<line x1="527.71" y1="595.3" x2="527.71" y2="603.35" stroke="#000" stroke-width="2.1"/>
<text font-size="13.7" class="b" text-anchor="middle" transform="translate(526.91 617.06) scale(1 1.04)">C4</text>
<line x1="563.5" y1="595.3" x2="563.5" y2="603.35" stroke="#000" stroke-width="2.1"/>
<text font-size="13.7" class="b" text-anchor="middle" transform="translate(563.4 617.06) scale(1 1.04)">Ph1</text>
<line x1="598.86" y1="595.3" x2="598.86" y2="603.35" stroke="#000" stroke-width="2.1"/>
<text font-size="13.7" class="b" text-anchor="middle" transform="translate(598.76 617.06) scale(1 1.04)">Ph2</text>
<line x1="634.86" y1="595.3" x2="634.86" y2="603.35" stroke="#000" stroke-width="2.1"/>
<text font-size="13.7" class="b" text-anchor="middle" transform="translate(634.76 617.06) scale(1 1.04)">Ph3</text>
<line x1="670.43" y1="595.3" x2="670.43" y2="603.35" stroke="#000" stroke-width="1.2"/>
<text font-size="13.7" class="b" text-anchor="middle" transform="translate(670.33 617.06) scale(1 1.04)">Ph4</text>
<text font-size="15.6" class="m" text-anchor="middle" transform="translate(360.35 500.7) rotate(-90)">TPM value</text>
<rect x="412.21" y="359.71" width="19.93" height="7.93" fill="#FF8000"/>
<text font-size="13.77" transform="translate(443.29 368.29) scale(1 1.04)">C-C motif chemokine 19 - LOC115581095</text>
<rect x="413.07" y="377.07" width="19.93" height="7.93" fill="#FF8080"/>
<text font-size="13.77" transform="translate(444.36 385.64) scale(1 1.04)">C-C motif chemokine 20 - LOC115582042</text>
<rect x="413.07" y="393.57" width="19.93" height="7.93" fill="#0000FF"/>
<text font-size="13.67" transform="translate(444.36 402.14) scale(1 1.04)">Lnc_contig_57825</text>
<rect x="413.07" y="410.93" width="19.93" height="7.93" fill="#5A5AF7"/>
<text font-size="13.7" transform="translate(444.36 419.5) scale(1 1.04)">Lnc_contig_242243</text>
</g>
<g id="c8">
<rect x="763.43" y="539.71" width="6.43" height="56.23" fill="#FF8000"/>
<rect x="773.07" y="509.07" width="6.43" height="86.87" fill="#0000FF"/>
<rect x="773.07" y="439.43" width="6.43" height="55.29" fill="#0000FF"/>
<rect x="782.77" y="509.07" width="6.54" height="86.87" fill="#5A5AF7"/>
<rect x="782.77" y="493" width="6.54" height="1.71" fill="#5A5AF7"/>
<rect x="799.06" y="529.43" width="6.43" height="66.51" fill="#FF8000"/>
<rect x="808.73" y="509.07" width="6.43" height="86.87" fill="#0000FF"/>
<rect x="808.73" y="428.71" width="6.43" height="66" fill="#0000FF"/>
<rect x="818.43" y="509.07" width="6.54" height="86.87" fill="#5A5AF7"/>
<rect x="818.43" y="480.14" width="6.54" height="14.57" fill="#5A5AF7"/>
<rect x="834.69" y="540.14" width="6.43" height="55.8" fill="#FF8000"/>
<rect x="844.4" y="509.07" width="6.43" height="86.87" fill="#0000FF"/>
<rect x="844.4" y="417.36" width="6.43" height="77.36" fill="#0000FF"/>
<rect x="854.09" y="509.07" width="6.54" height="86.87" fill="#5A5AF7"/>
<rect x="854.09" y="469.43" width="6.54" height="25.29" fill="#5A5AF7"/>
<rect x="870.33" y="531.79" width="6.43" height="64.16" fill="#FF8000"/>
<rect x="880.06" y="509.07" width="6.43" height="86.87" fill="#0000FF"/>
<rect x="880.06" y="443.5" width="6.43" height="51.21" fill="#0000FF"/>
<rect x="889.76" y="509.07" width="6.54" height="86.87" fill="#5A5AF7"/>
<rect x="889.76" y="471.36" width="6.54" height="23.36" fill="#5A5AF7"/>
<rect x="905.96" y="558.36" width="6.43" height="37.59" fill="#FF8000"/>
<rect x="915.72" y="509.07" width="6.43" height="86.87" fill="#0000FF"/>
<rect x="915.72" y="492.14" width="6.43" height="2.57" fill="#0000FF"/>
<rect x="925.42" y="544.21" width="6.54" height="51.73" fill="#5A5AF7"/>
<rect x="941.59" y="579.36" width="6.43" height="16.59" fill="#FF8000"/>
<rect x="951.39" y="509.07" width="6.43" height="86.87" fill="#0000FF"/>
<rect x="951.39" y="493" width="6.43" height="1.71" fill="#0000FF"/>
<rect x="961.08" y="582.14" width="6.54" height="13.8" fill="#5A5AF7"/>
<rect x="977.22" y="575.5" width="6.43" height="20.44" fill="#FF8000"/>
<rect x="987.05" y="532.86" width="6.43" height="63.09" fill="#0000FF"/>
<rect x="996.75" y="586.43" width="6.54" height="9.51" fill="#5A5AF7"/>
<rect x="1012.86" y="560.71" width="6.43" height="35.23" fill="#FF8000"/>
<rect x="1022.71" y="509.07" width="6.43" height="86.87" fill="#0000FF"/>
<rect x="1022.71" y="487" width="6.43" height="7.71" fill="#0000FF"/>
<rect x="1032.41" y="526.64" width="6.54" height="69.3" fill="#5A5AF7"/>
<line x1="760.12" y1="406.66" x2="760.12" y2="494.71" stroke="#000" stroke-width="2.1"/>
<line x1="760.12" y1="509.07" x2="760.12" y2="595.94" stroke="#000" stroke-width="2.1"/>
<line x1="755.32" y1="494.71" x2="765.12" y2="494.71" stroke="#000" stroke-width="2.1"/>
<line x1="755.32" y1="509.07" x2="765.12" y2="509.07" stroke="#000" stroke-width="2.1"/>
<line x1="752.08" y1="595.94" x2="1043.93" y2="595.94" stroke="#000" stroke-width="2.1"/>
<line x1="752.08" y1="407.71" x2="760.12" y2="407.71" stroke="#000" stroke-width="2.1"/>
<text font-size="13.9" class="b" text-anchor="end" transform="translate(749.48 412.41) scale(1 1.04)">125</text>
<line x1="752.08" y1="428.5" x2="760.12" y2="428.5" stroke="#000" stroke-width="2.1"/>
<text font-size="13.9" class="b" text-anchor="end" transform="translate(749.48 433.2) scale(1 1.04)">100</text>
<line x1="752.08" y1="449.07" x2="760.12" y2="449.07" stroke="#000" stroke-width="2.1"/>
<text font-size="13.9" class="b" text-anchor="end" transform="translate(749.48 453.77) scale(1 1.04)">75</text>
<line x1="752.08" y1="469.86" x2="760.12" y2="469.86" stroke="#000" stroke-width="2.1"/>
<text font-size="13.9" class="b" text-anchor="end" transform="translate(749.48 474.56) scale(1 1.04)">50</text>
<line x1="752.08" y1="490.64" x2="760.12" y2="490.64" stroke="#000" stroke-width="2.1"/>
<text font-size="13.9" class="b" text-anchor="end" transform="translate(749.48 495.34) scale(1 1.04)">25</text>
<text font-size="13.9" class="b" text-anchor="end" transform="translate(749.48 513.77) scale(1 1.04)">15</text>
<line x1="752.08" y1="526" x2="760.12" y2="526" stroke="#000" stroke-width="2.1"/>
<text font-size="13.9" class="b" text-anchor="end" transform="translate(749.48 530.7) scale(1 1.04)">12</text>
<line x1="752.08" y1="543.57" x2="760.12" y2="543.57" stroke="#000" stroke-width="2.1"/>
<text font-size="13.9" class="b" text-anchor="end" transform="translate(749.48 548.27) scale(1 1.04)">9</text>
<line x1="752.08" y1="560.71" x2="760.12" y2="560.71" stroke="#000" stroke-width="2.1"/>
<text font-size="13.9" class="b" text-anchor="end" transform="translate(749.48 565.41) scale(1 1.04)">6</text>
<line x1="752.08" y1="578.29" x2="760.12" y2="578.29" stroke="#000" stroke-width="2.1"/>
<text font-size="13.9" class="b" text-anchor="end" transform="translate(749.48 582.99) scale(1 1.04)">3</text>
<text font-size="13.9" class="b" text-anchor="end" transform="translate(749.48 600.34) scale(1 1.04)">0</text>
<line x1="775.86" y1="595.94" x2="775.86" y2="603.99" stroke="#000" stroke-width="2.1"/>
<text font-size="13.7" class="b" text-anchor="middle" transform="translate(775.06 618.13) scale(1 1.04)">C1</text>
<line x1="811.43" y1="595.94" x2="811.43" y2="603.99" stroke="#000" stroke-width="1.2"/>
<text font-size="13.7" class="b" text-anchor="middle" transform="translate(810.63 618.13) scale(1 1.04)">C2</text>
<line x1="847" y1="595.94" x2="847" y2="603.99" stroke="#000" stroke-width="2.1"/>
<text font-size="13.7" class="b" text-anchor="middle" transform="translate(846.2 618.13) scale(1 1.04)">C3</text>
<line x1="882.79" y1="595.94" x2="882.79" y2="603.99" stroke="#000" stroke-width="2.1"/>
<text font-size="13.7" class="b" text-anchor="middle" transform="translate(881.99 618.13) scale(1 1.04)">C4</text>
<line x1="918.36" y1="595.94" x2="918.36" y2="603.99" stroke="#000" stroke-width="1.2"/>
<text font-size="13.7" class="b" text-anchor="middle" transform="translate(918.26 618.13) scale(1 1.04)">Ph1</text>
<line x1="954.14" y1="595.94" x2="954.14" y2="603.99" stroke="#000" stroke-width="2.1"/>
<text font-size="13.7" class="b" text-anchor="middle" transform="translate(954.04 618.13) scale(1 1.04)">Ph2</text>
<line x1="989.93" y1="595.94" x2="989.93" y2="603.99" stroke="#000" stroke-width="2.1"/>
<text font-size="13.7" class="b" text-anchor="middle" transform="translate(989.83 618.13) scale(1 1.04)">Ph3</text>
<line x1="1025.29" y1="595.94" x2="1025.29" y2="603.99" stroke="#000" stroke-width="2.1"/>
<text font-size="13.7" class="b" text-anchor="middle" transform="translate(1025.19 618.13) scale(1 1.04)">Ph4</text>
<text font-size="15.6" class="m" text-anchor="middle" transform="translate(718.15 501.4) rotate(-90)">TPM value</text>
<rect x="759.79" y="355.43" width="19.93" height="7.93" fill="#FF8000"/>
<text font-size="13.74" transform="translate(791.29 364) scale(1 1.04)">C-C chemokine receptor type 3 - LOC115569677</text>
<rect x="759.79" y="373" width="19.93" height="7.93" fill="#0000FF"/>
<text font-size="13.64" transform="translate(791.29 381.57) scale(1 1.04)">Lnc_contig_35422</text>
<rect x="759.79" y="389.5" width="19.93" height="7.93" fill="#5A5AF7"/>
<text font-size="13.64" transform="translate(791.29 398.07) scale(1 1.04)">Lnc_contig_19464</text>
</g>
<g id="c9">
<rect x="1127.29" y="518.29" width="9" height="76.8" fill="#FF8000"/>
<rect x="1140.57" y="424" width="9" height="171.09" fill="#0000FF"/>
<rect x="1163.13" y="562.43" width="9" height="32.66" fill="#FF8000"/>
<rect x="1176.42" y="474.14" width="9" height="120.94" fill="#0000FF"/>
<rect x="1198.98" y="537.36" width="9" height="57.73" fill="#FF8000"/>
<rect x="1212.27" y="493" width="9" height="102.09" fill="#0000FF"/>
<rect x="1234.83" y="524.93" width="9" height="70.16" fill="#FF8000"/>
<rect x="1248.11" y="506.93" width="9" height="88.16" fill="#0000FF"/>
<rect x="1270.67" y="577" width="9" height="18.09" fill="#FF8000"/>
<rect x="1283.96" y="572.5" width="9" height="22.59" fill="#0000FF"/>
<rect x="1306.52" y="584.93" width="9" height="10.16" fill="#FF8000"/>
<rect x="1319.81" y="565" width="9" height="30.09" fill="#0000FF"/>
<rect x="1342.37" y="592.86" width="9" height="2.23" fill="#FF8000"/>
<rect x="1355.65" y="590.07" width="9" height="5.01" fill="#0000FF"/>
<rect x="1378.21" y="579.14" width="9" height="15.94" fill="#FF8000"/>
<rect x="1391.5" y="586.86" width="9" height="8.23" fill="#0000FF"/>
<line x1="1122.38" y1="405.81" x2="1122.38" y2="595.09" stroke="#000" stroke-width="1.2"/>
<line x1="1115.06" y1="595.09" x2="1405.86" y2="595.09" stroke="#000" stroke-width="2.1"/>
<line x1="1115.06" y1="406.86" x2="1122.38" y2="406.86" stroke="#000" stroke-width="2.1"/>
<text font-size="13.9" class="b" text-anchor="end" transform="translate(1112.46 411.56) scale(1 1.04)">300</text>
<line x1="1115.06" y1="468.79" x2="1122.38" y2="468.79" stroke="#000" stroke-width="2.1"/>
<text font-size="13.9" class="b" text-anchor="end" transform="translate(1112.46 473.49) scale(1 1.04)">200</text>
<line x1="1115.06" y1="531.79" x2="1122.38" y2="531.79" stroke="#000" stroke-width="2.1"/>
<text font-size="13.9" class="b" text-anchor="end" transform="translate(1112.46 536.49) scale(1 1.04)">100</text>
<text font-size="13.9" class="b" text-anchor="end" transform="translate(1112.46 599.49) scale(1 1.04)">0</text>
<line x1="1138" y1="595.09" x2="1138" y2="603.14" stroke="#000" stroke-width="2.1"/>
<text font-size="13.7" class="b" text-anchor="middle" transform="translate(1137.2 617.27) scale(1 1.04)">C1</text>
<line x1="1173.79" y1="595.09" x2="1173.79" y2="603.14" stroke="#000" stroke-width="2.1"/>
<text font-size="13.7" class="b" text-anchor="middle" transform="translate(1172.99 617.27) scale(1 1.04)">C2</text>
<line x1="1209.79" y1="595.09" x2="1209.79" y2="603.14" stroke="#000" stroke-width="2.1"/>
<text font-size="13.7" class="b" text-anchor="middle" transform="translate(1208.99 617.27) scale(1 1.04)">C3</text>
<line x1="1245.57" y1="595.09" x2="1245.57" y2="603.14" stroke="#000" stroke-width="2.1"/>
<text font-size="13.7" class="b" text-anchor="middle" transform="translate(1244.77 617.27) scale(1 1.04)">C4</text>
<line x1="1281.36" y1="595.09" x2="1281.36" y2="603.14" stroke="#000" stroke-width="1.2"/>
<text font-size="13.7" class="b" text-anchor="middle" transform="translate(1281.26 617.27) scale(1 1.04)">Ph1</text>
<line x1="1316.93" y1="595.09" x2="1316.93" y2="603.14" stroke="#000" stroke-width="2.1"/>
<text font-size="13.7" class="b" text-anchor="middle" transform="translate(1316.83 617.27) scale(1 1.04)">Ph2</text>
<line x1="1352.93" y1="595.09" x2="1352.93" y2="603.14" stroke="#000" stroke-width="2.1"/>
<text font-size="13.7" class="b" text-anchor="middle" transform="translate(1352.83 617.27) scale(1 1.04)">Ph3</text>
<line x1="1388.93" y1="595.09" x2="1388.93" y2="603.14" stroke="#000" stroke-width="2.1"/>
<text font-size="13.7" class="b" text-anchor="middle" transform="translate(1388.83 617.27) scale(1 1.04)">Ph4</text>
<text font-size="15.6" class="m" text-anchor="middle" transform="translate(1080.65 500.6) rotate(-90)">TPM value</text>
<rect x="1121.07" y="356.07" width="19.93" height="7.93" fill="#FF8000"/>
<text font-size="13.69" transform="translate(1152.36 364.64) scale(1 1.04)">Chemokine-like receptor 1 - LOC115567111</text>
<rect x="1121.07" y="375.79" width="19.93" height="7.93" fill="#0000FF"/>
<text font-size="13.69" transform="translate(1152.36 384.14) scale(1 1.04)">Lnc_contig_31794</text>
</g>
<g id="c10">
<rect x="1482.98" y="507.12" width="9.1" height="86.48" fill="#FF8000"/>
<rect x="1482.98" y="460.97" width="9.1" height="31.83" fill="#FF8000"/>
<rect x="1496.4" y="533.96" width="9.1" height="59.65" fill="#0000FF"/>
<rect x="1518.85" y="507.12" width="9.1" height="86.48" fill="#FF8000"/>
<rect x="1518.85" y="472.79" width="9.1" height="20.01" fill="#FF8000"/>
<rect x="1532.26" y="557.15" width="9.1" height="36.45" fill="#0000FF"/>
<rect x="1554.71" y="507.12" width="9.1" height="86.48" fill="#FF8000"/>
<rect x="1554.71" y="444.14" width="9.1" height="48.66" fill="#FF8000"/>
<rect x="1568.12" y="557.83" width="9.1" height="35.77" fill="#0000FF"/>
<rect x="1590.57" y="507.12" width="9.1" height="86.48" fill="#FF8000"/>
<rect x="1590.57" y="418.45" width="9.1" height="74.35" fill="#FF8000"/>
<rect x="1603.98" y="560.33" width="9.1" height="33.27" fill="#0000FF"/>
<rect x="1626.43" y="507.12" width="9.1" height="86.48" fill="#FF8000"/>
<rect x="1626.43" y="476.88" width="9.1" height="15.92" fill="#FF8000"/>
<rect x="1639.84" y="583.98" width="9.1" height="9.62" fill="#0000FF"/>
<rect x="1662.29" y="507.12" width="9.1" height="86.48" fill="#FF8000"/>
<rect x="1662.29" y="479.61" width="9.1" height="13.19" fill="#FF8000"/>
<rect x="1675.71" y="572.61" width="9.1" height="20.99" fill="#0000FF"/>
<rect x="1698.15" y="536.68" width="9.1" height="56.92" fill="#FF8000"/>
<rect x="1711.57" y="591.03" width="9.1" height="2.57" fill="#0000FF"/>
<rect x="1734.01" y="507.12" width="9.1" height="86.48" fill="#FF8000"/>
<rect x="1734.01" y="483.25" width="9.1" height="9.55" fill="#FF8000"/>
<rect x="1747.43" y="585.34" width="9.1" height="8.26" fill="#0000FF"/>
<line x1="1478.27" y1="404.66" x2="1478.27" y2="492.8" stroke="#000" stroke-width="2.1"/>
<line x1="1478.27" y1="507.12" x2="1478.27" y2="593.6" stroke="#000" stroke-width="2.1"/>
<line x1="1473.47" y1="492.8" x2="1483.27" y2="492.8" stroke="#000" stroke-width="2.1"/>
<line x1="1473.47" y1="507.12" x2="1483.27" y2="507.12" stroke="#000" stroke-width="2.1"/>
<line x1="1470.24" y1="593.6" x2="1761.75" y2="593.6" stroke="#000" stroke-width="2.1"/>
<line x1="1470.24" y1="405.71" x2="1478.27" y2="405.71" stroke="#000" stroke-width="2.1"/>
<text font-size="13.9" class="b" text-anchor="end" transform="translate(1467.64 410.41) scale(1 1.04)">10000</text>
<line x1="1470.24" y1="427.09" x2="1478.27" y2="427.09" stroke="#000" stroke-width="2.1"/>
<text font-size="13.9" class="b" text-anchor="end" transform="translate(1467.64 431.79) scale(1 1.04)">8000</text>
<line x1="1470.24" y1="449.14" x2="1478.27" y2="449.14" stroke="#000" stroke-width="2.1"/>
<text font-size="13.9" class="b" text-anchor="end" transform="translate(1467.64 453.84) scale(1 1.04)">6000</text>
<line x1="1470.24" y1="470.97" x2="1478.27" y2="470.97" stroke="#000" stroke-width="2.1"/>
<text font-size="13.9" class="b" text-anchor="end" transform="translate(1467.64 475.67) scale(1 1.04)">4000</text>
<text font-size="13.9" class="b" text-anchor="end" transform="translate(1467.64 497.5) scale(1 1.04)">2000</text>
<text font-size="13.9" class="b" text-anchor="end" transform="translate(1467.64 511.82) scale(1 1.04)">1500</text>
<line x1="1470.24" y1="535.77" x2="1478.27" y2="535.77" stroke="#000" stroke-width="2.1"/>
<text font-size="13.9" class="b" text-anchor="end" transform="translate(1467.64 540.48) scale(1 1.04)">1000</text>
<line x1="1470.24" y1="564.65" x2="1478.27" y2="564.65" stroke="#000" stroke-width="2.1"/>
<text font-size="13.9" class="b" text-anchor="end" transform="translate(1467.64 569.35) scale(1 1.04)">500</text>
<text font-size="13.9" class="b" text-anchor="end" transform="translate(1467.64 598) scale(1 1.04)">0</text>
<line x1="1493.67" y1="593.6" x2="1493.67" y2="601.65" stroke="#000" stroke-width="2.1"/>
<text font-size="13.7" class="b" text-anchor="middle" transform="translate(1492.87 616.01) scale(1 1.04)">C1</text>
<line x1="1529.83" y1="593.6" x2="1529.83" y2="601.65" stroke="#000" stroke-width="2.1"/>
<text font-size="13.7" class="b" text-anchor="middle" transform="translate(1529.03 616.01) scale(1 1.04)">C2</text>
<line x1="1565.75" y1="593.6" x2="1565.75" y2="601.65" stroke="#000" stroke-width="2.1"/>
<text font-size="13.7" class="b" text-anchor="middle" transform="translate(1564.95 616.01) scale(1 1.04)">C3</text>
<line x1="1601.45" y1="593.6" x2="1601.45" y2="601.65" stroke="#000" stroke-width="1.2"/>
<text font-size="13.7" class="b" text-anchor="middle" transform="translate(1600.65 616.01) scale(1 1.04)">C4</text>
<line x1="1637.15" y1="593.6" x2="1637.15" y2="601.65" stroke="#000" stroke-width="2.1"/>
<text font-size="13.7" class="b" text-anchor="middle" transform="translate(1637.05 616.01) scale(1 1.04)">Ph1</text>
<line x1="1673.08" y1="593.6" x2="1673.08" y2="601.65" stroke="#000" stroke-width="2.1"/>
<text font-size="13.7" class="b" text-anchor="middle" transform="translate(1672.98 616.01) scale(1 1.04)">Ph2</text>
<line x1="1708.77" y1="593.6" x2="1708.77" y2="601.65" stroke="#000" stroke-width="2.1"/>
<text font-size="13.7" class="b" text-anchor="middle" transform="translate(1708.67 616.01) scale(1 1.04)">Ph3</text>
<line x1="1744.7" y1="593.6" x2="1744.7" y2="601.65" stroke="#000" stroke-width="2.1"/>
<text font-size="13.7" class="b" text-anchor="middle" transform="translate(1744.6 616.01) scale(1 1.04)">Ph4</text>
<text font-size="15.6" class="m" text-anchor="middle" transform="translate(1421.75 499.1) rotate(-90)">TPM value</text>
<rect x="1475.25" y="349.1" width="20.01" height="7.73" fill="#FF8000"/>
<text font-size="13.72" transform="translate(1506.4 357.74) scale(1 1.04)">Lymphocyte antigen 6C2 - LOC115581133</text>
<rect x="1475.25" y="368.2" width="20.01" height="7.73" fill="#0000FF"/>
<text font-size="13.68" transform="translate(1506.4 376.84) scale(1 1.04)">Lnc_contig_101444</text>
</g>
<g id="c11">
<rect x="58.93" y="839.14" width="9" height="78.73" fill="#FF8000"/>
<rect x="72.21" y="831" width="9" height="86.87" fill="#0000FF"/>
<rect x="72.21" y="795.86" width="9" height="20.36" fill="#0000FF"/>
<rect x="94.78" y="843" width="9" height="74.87" fill="#FF8000"/>
<rect x="108.06" y="831" width="9" height="86.87" fill="#0000FF"/>
<rect x="130.62" y="845.14" width="9" height="72.73" fill="#FF8000"/>
<rect x="143.91" y="831" width="9" height="86.87" fill="#0000FF"/>
<rect x="143.91" y="806.79" width="9" height="9.43" fill="#0000FF"/>
<rect x="166.47" y="899.36" width="9" height="18.51" fill="#FF8000"/>
<rect x="179.76" y="831" width="9" height="86.87" fill="#0000FF"/>
<rect x="202.32" y="831" width="9" height="86.87" fill="#FF8000"/>
<rect x="202.32" y="811.71" width="9" height="4.5" fill="#FF8000"/>
<rect x="215.6" y="831" width="9" height="86.87" fill="#0000FF"/>
<rect x="215.6" y="772.93" width="9" height="43.29" fill="#0000FF"/>
<rect x="238.16" y="831" width="9" height="86.87" fill="#FF8000"/>
<rect x="238.16" y="814.07" width="9" height="2.14" fill="#FF8000"/>
<rect x="251.45" y="831" width="9" height="86.87" fill="#0000FF"/>
<rect x="251.45" y="791.14" width="9" height="25.07" fill="#0000FF"/>
<rect x="274.01" y="831" width="9" height="86.87" fill="#FF8000"/>
<rect x="274.01" y="807" width="9" height="9.21" fill="#FF8000"/>
<rect x="287.3" y="831" width="9" height="86.87" fill="#0000FF"/>
<rect x="287.3" y="737.79" width="9" height="78.43" fill="#0000FF"/>
<rect x="309.86" y="831" width="9" height="86.87" fill="#FF8000"/>
<rect x="309.86" y="812.57" width="9" height="3.64" fill="#FF8000"/>
<rect x="323.14" y="831" width="9" height="86.87" fill="#0000FF"/>
<rect x="323.14" y="764.36" width="9" height="51.86" fill="#0000FF"/>
<line x1="54.05" y1="727.95" x2="54.05" y2="816.21" stroke="#000" stroke-width="2.1"/>
<line x1="54.05" y1="831" x2="54.05" y2="917.87" stroke="#000" stroke-width="2.1"/>
<line x1="49.25" y1="816.21" x2="59.05" y2="816.21" stroke="#000" stroke-width="2.1"/>
<line x1="49.25" y1="831" x2="59.05" y2="831" stroke="#000" stroke-width="2.1"/>
<line x1="46.13" y1="917.87" x2="337.93" y2="917.87" stroke="#000" stroke-width="2.1"/>
<line x1="46.13" y1="729" x2="54.05" y2="729" stroke="#000" stroke-width="2.1"/>
<text font-size="13.9" class="b" text-anchor="end" transform="translate(43.53 733.7) scale(1 1.04)">150</text>
<line x1="46.13" y1="759.21" x2="54.05" y2="759.21" stroke="#000" stroke-width="2.1"/>
<text font-size="13.9" class="b" text-anchor="end" transform="translate(43.53 763.91) scale(1 1.04)">100</text>
<line x1="46.13" y1="789.43" x2="54.05" y2="789.43" stroke="#000" stroke-width="1.2"/>
<text font-size="13.9" class="b" text-anchor="end" transform="translate(43.53 794.13) scale(1 1.04)">50</text>
<text font-size="13.9" class="b" text-anchor="end" transform="translate(43.53 835.7) scale(1 1.04)">3</text>
<line x1="46.13" y1="859.71" x2="54.05" y2="859.71" stroke="#000" stroke-width="2.1"/>
<text font-size="13.9" class="b" text-anchor="end" transform="translate(43.53 864.41) scale(1 1.04)">2</text>
<line x1="46.13" y1="888.64" x2="54.05" y2="888.64" stroke="#000" stroke-width="2.1"/>
<text font-size="13.9" class="b" text-anchor="end" transform="translate(43.53 893.34) scale(1 1.04)">1</text>
<text font-size="13.9" class="b" text-anchor="end" transform="translate(43.53 922.27) scale(1 1.04)">0</text>
<line x1="69.86" y1="917.87" x2="69.86" y2="925.92" stroke="#000" stroke-width="2.1"/>
<text font-size="13.7" class="b" text-anchor="middle" transform="translate(69.06 940.27) scale(1 1.04)">C1</text>
<line x1="105.64" y1="917.87" x2="105.64" y2="925.92" stroke="#000" stroke-width="2.1"/>
<text font-size="13.7" class="b" text-anchor="middle" transform="translate(104.84 940.27) scale(1 1.04)">C2</text>
<line x1="141.43" y1="917.87" x2="141.43" y2="925.92" stroke="#000" stroke-width="1.2"/>
<text font-size="13.7" class="b" text-anchor="middle" transform="translate(140.63 940.27) scale(1 1.04)">C3</text>
<line x1="177" y1="917.87" x2="177" y2="925.92" stroke="#000" stroke-width="2.1"/>
<text font-size="13.7" class="b" text-anchor="middle" transform="translate(176.2 940.27) scale(1 1.04)">C4</text>
<line x1="212.79" y1="917.87" x2="212.79" y2="925.92" stroke="#000" stroke-width="2.1"/>
<text font-size="13.7" class="b" text-anchor="middle" transform="translate(212.69 940.27) scale(1 1.04)">Ph1</text>
<line x1="248.79" y1="917.87" x2="248.79" y2="925.92" stroke="#000" stroke-width="2.1"/>
<text font-size="13.7" class="b" text-anchor="middle" transform="translate(248.69 940.27) scale(1 1.04)">Ph2</text>
<line x1="284.79" y1="917.87" x2="284.79" y2="925.92" stroke="#000" stroke-width="2.1"/>
<text font-size="13.7" class="b" text-anchor="middle" transform="translate(284.69 940.27) scale(1 1.04)">Ph3</text>
<line x1="320.57" y1="917.87" x2="320.57" y2="925.92" stroke="#000" stroke-width="2.1"/>
<text font-size="13.7" class="b" text-anchor="middle" transform="translate(320.47 940.27) scale(1 1.04)">Ph4</text>
<text font-size="15.6" class="m" text-anchor="middle" transform="translate(12.5 823.45) rotate(-90)">TPM value</text>
<rect x="53.36" y="695.79" width="20.57" height="7.93" fill="#FF8000"/>
<text font-size="13.62" transform="translate(83.57 704.36) scale(1 1.04)">Antigen peptide transporter 1 - LOC115566861</text>
<rect x="54.21" y="714.43" width="20.14" height="7.93" fill="#0000FF"/>
<text font-size="13.69" transform="translate(85.29 722.79) scale(1 1.04)">Lnc_contig_88688</text>
</g>
<g id="c12">
<rect x="404.5" y="907.07" width="6.43" height="8.87" fill="#FF8000"/>
<rect x="414.2" y="844.93" width="6.54" height="71.01" fill="#0000FF"/>
<rect x="423.84" y="862.07" width="6.54" height="53.87" fill="#5A5AF7"/>
<rect x="440.16" y="907.5" width="6.43" height="8.44" fill="#FF8000"/>
<rect x="449.86" y="883.07" width="6.54" height="32.87" fill="#0000FF"/>
<rect x="459.53" y="859.29" width="6.54" height="56.66" fill="#5A5AF7"/>
<rect x="475.83" y="908.79" width="6.43" height="7.16" fill="#FF8000"/>
<rect x="485.52" y="871.71" width="6.54" height="44.23" fill="#0000FF"/>
<rect x="495.23" y="829.93" width="6.54" height="86.01" fill="#5A5AF7"/>
<rect x="511.49" y="911.36" width="6.43" height="4.59" fill="#FF8000"/>
<rect x="521.19" y="894.21" width="6.54" height="21.73" fill="#0000FF"/>
<rect x="530.92" y="895.71" width="6.54" height="20.23" fill="#5A5AF7"/>
<rect x="547.15" y="881.36" width="6.43" height="34.59" fill="#FF8000"/>
<rect x="556.85" y="807.86" width="6.54" height="108.09" fill="#0000FF"/>
<rect x="566.61" y="818.36" width="6.54" height="97.59" fill="#5A5AF7"/>
<rect x="582.82" y="897.43" width="6.43" height="18.51" fill="#FF8000"/>
<rect x="592.51" y="790.29" width="6.54" height="125.66" fill="#0000FF"/>
<rect x="602.31" y="809.36" width="6.54" height="106.59" fill="#5A5AF7"/>
<rect x="618.48" y="858.86" width="6.43" height="57.09" fill="#FF8000"/>
<rect x="628.18" y="788.57" width="6.54" height="127.37" fill="#0000FF"/>
<rect x="638" y="758.57" width="6.54" height="157.37" fill="#5A5AF7"/>
<rect x="654.14" y="889.71" width="6.43" height="26.23" fill="#FF8000"/>
<rect x="663.84" y="786.86" width="6.54" height="129.09" fill="#0000FF"/>
<rect x="673.7" y="730.29" width="6.54" height="185.66" fill="#5A5AF7"/>
<line x1="401.01" y1="725.81" x2="401.01" y2="915.94" stroke="#000" stroke-width="2.1"/>
<line x1="392.98" y1="915.94" x2="685" y2="915.94" stroke="#000" stroke-width="2.1"/>
<line x1="392.98" y1="726.86" x2="401.01" y2="726.86" stroke="#000" stroke-width="2.1"/>
<text font-size="13.9" class="b" text-anchor="end" transform="translate(390.38 731.56) scale(1 1.04)">250</text>
<line x1="392.98" y1="765" x2="401.01" y2="765" stroke="#000" stroke-width="2.1"/>
<text font-size="13.9" class="b" text-anchor="end" transform="translate(390.38 769.7) scale(1 1.04)">200</text>
<line x1="392.98" y1="802.71" x2="401.01" y2="802.71" stroke="#000" stroke-width="2.1"/>
<text font-size="13.9" class="b" text-anchor="end" transform="translate(390.38 807.41) scale(1 1.04)">150</text>
<line x1="392.98" y1="840.21" x2="401.01" y2="840.21" stroke="#000" stroke-width="2.1"/>
<text font-size="13.9" class="b" text-anchor="end" transform="translate(390.38 844.91) scale(1 1.04)">100</text>
<line x1="392.98" y1="877.93" x2="401.01" y2="877.93" stroke="#000" stroke-width="2.1"/>
<text font-size="13.9" class="b" text-anchor="end" transform="translate(390.38 882.63) scale(1 1.04)">50</text>
<text font-size="13.9" class="b" text-anchor="end" transform="translate(390.38 920.34) scale(1 1.04)">0</text>
<line x1="416.93" y1="915.94" x2="416.93" y2="923.99" stroke="#000" stroke-width="2.1"/>
<text font-size="13.7" class="b" text-anchor="middle" transform="translate(416.13 938.13) scale(1 1.04)">C1</text>
<line x1="452.93" y1="915.94" x2="452.93" y2="923.99" stroke="#000" stroke-width="2.1"/>
<text font-size="13.7" class="b" text-anchor="middle" transform="translate(452.13 938.13) scale(1 1.04)">C2</text>
<line x1="488.29" y1="915.94" x2="488.29" y2="923.99" stroke="#000" stroke-width="2.1"/>
<text font-size="13.7" class="b" text-anchor="middle" transform="translate(487.49 938.13) scale(1 1.04)">C3</text>
<line x1="524.07" y1="915.94" x2="524.07" y2="923.99" stroke="#000" stroke-width="2.1"/>
<text font-size="13.7" class="b" text-anchor="middle" transform="translate(523.27 938.13) scale(1 1.04)">C4</text>
<line x1="559.86" y1="915.94" x2="559.86" y2="923.99" stroke="#000" stroke-width="2.1"/>
<text font-size="13.7" class="b" text-anchor="middle" transform="translate(559.76 938.13) scale(1 1.04)">Ph1</text>
<line x1="595.43" y1="915.94" x2="595.43" y2="923.99" stroke="#000" stroke-width="1.2"/>
<text font-size="13.7" class="b" text-anchor="middle" transform="translate(595.33 938.13) scale(1 1.04)">Ph2</text>
<line x1="631" y1="915.94" x2="631" y2="923.99" stroke="#000" stroke-width="2.1"/>
<text font-size="13.7" class="b" text-anchor="middle" transform="translate(630.9 938.13) scale(1 1.04)">Ph3</text>
<line x1="667" y1="915.94" x2="667" y2="923.99" stroke="#000" stroke-width="2.1"/>
<text font-size="13.7" class="b" text-anchor="middle" transform="translate(666.9 938.13) scale(1 1.04)">Ph4</text>
<text font-size="15.6" class="m" text-anchor="middle" transform="translate(364.11 821.5) rotate(-90)">TPM value</text>
<rect x="407.07" y="676.29" width="19.93" height="7.93" fill="#FF8000"/>
<text font-size="13.65" transform="translate(438.14 684.86) scale(1 1.04)">Antigen peptide transporter 1 - LOC115566623</text>
<rect x="407.07" y="694.93" width="19.93" height="7.93" fill="#0000FF"/>
<text font-size="13.7" transform="translate(438.14 703.29) scale(1 1.04)">Lnc_contig_113592</text>
<rect x="407.07" y="714" width="19.93" height="7.93" fill="#5A5AF7"/>
<text font-size="13.7" transform="translate(438.14 722.57) scale(1 1.04)">Lnc_contig_127455</text>
</g>
<g id="c13">
<rect x="765" y="886.07" width="9" height="30.73" fill="#FF8000"/>
<rect x="778.12" y="909.86" width="9.11" height="6.94" fill="#0000FF"/>
<rect x="800.82" y="891" width="9" height="25.8" fill="#FF8000"/>
<rect x="813.97" y="907.07" width="9.11" height="9.73" fill="#0000FF"/>
<rect x="836.63" y="888" width="9" height="28.8" fill="#FF8000"/>
<rect x="849.82" y="909.86" width="9.11" height="6.94" fill="#0000FF"/>
<rect x="872.45" y="891" width="9" height="25.8" fill="#FF8000"/>
<rect x="885.67" y="912" width="9.11" height="4.8" fill="#0000FF"/>
<rect x="908.27" y="829.93" width="9" height="86.87" fill="#FF8000"/>
<rect x="921.51" y="898.93" width="9.11" height="17.87" fill="#0000FF"/>
<rect x="944.08" y="868.93" width="9" height="47.87" fill="#FF8000"/>
<rect x="957.36" y="885.86" width="9.11" height="30.94" fill="#0000FF"/>
<rect x="979.9" y="758.14" width="9" height="158.66" fill="#FF8000"/>
<rect x="993.21" y="883.07" width="9.11" height="33.73" fill="#0000FF"/>
<rect x="1015.71" y="835.07" width="9" height="81.73" fill="#FF8000"/>
<rect x="1029.05" y="894.21" width="9.11" height="22.59" fill="#0000FF"/>
<line x1="760.12" y1="726.88" x2="760.12" y2="916.8" stroke="#000" stroke-width="2.1"/>
<line x1="751.9" y1="916.8" x2="1043.57" y2="916.8" stroke="#000" stroke-width="2.1"/>
<line x1="751.9" y1="727.93" x2="760.12" y2="727.93" stroke="#000" stroke-width="2.1"/>
<text font-size="13.9" class="b" text-anchor="end" transform="translate(749.3 732.63) scale(1 1.04)">1200</text>
<line x1="751.9" y1="775.07" x2="760.12" y2="775.07" stroke="#000" stroke-width="2.1"/>
<text font-size="13.9" class="b" text-anchor="end" transform="translate(749.3 779.77) scale(1 1.04)">900</text>
<line x1="751.9" y1="822.21" x2="760.12" y2="822.21" stroke="#000" stroke-width="1.2"/>
<text font-size="13.9" class="b" text-anchor="end" transform="translate(749.3 826.91) scale(1 1.04)">600</text>
<line x1="751.9" y1="869.36" x2="760.12" y2="869.36" stroke="#000" stroke-width="2.1"/>
<text font-size="13.9" class="b" text-anchor="end" transform="translate(749.3 874.06) scale(1 1.04)">300</text>
<text font-size="13.9" class="b" text-anchor="end" transform="translate(749.3 921.2) scale(1 1.04)">0</text>
<line x1="775.71" y1="916.8" x2="775.71" y2="924.85" stroke="#000" stroke-width="2.1"/>
<text font-size="13.7" class="b" text-anchor="middle" transform="translate(774.91 938.77) scale(1 1.04)">C1</text>
<line x1="811.71" y1="916.8" x2="811.71" y2="924.85" stroke="#000" stroke-width="2.1"/>
<text font-size="13.7" class="b" text-anchor="middle" transform="translate(810.91 938.77) scale(1 1.04)">C2</text>
<line x1="847.5" y1="916.8" x2="847.5" y2="924.85" stroke="#000" stroke-width="1.2"/>
<text font-size="13.7" class="b" text-anchor="middle" transform="translate(846.7 938.77) scale(1 1.04)">C3</text>
<line x1="883.07" y1="916.8" x2="883.07" y2="924.85" stroke="#000" stroke-width="2.1"/>
<text font-size="13.7" class="b" text-anchor="middle" transform="translate(882.27 938.77) scale(1 1.04)">C4</text>
<line x1="918.86" y1="916.8" x2="918.86" y2="924.85" stroke="#000" stroke-width="2.1"/>
<text font-size="13.7" class="b" text-anchor="middle" transform="translate(918.76 938.77) scale(1 1.04)">Ph1</text>
<line x1="954.64" y1="916.8" x2="954.64" y2="924.85" stroke="#000" stroke-width="2.1"/>
<text font-size="13.7" class="b" text-anchor="middle" transform="translate(954.54 938.77) scale(1 1.04)">Ph2</text>
<line x1="990.64" y1="916.8" x2="990.64" y2="924.85" stroke="#000" stroke-width="2.1"/>
<text font-size="13.7" class="b" text-anchor="middle" transform="translate(990.54 938.77) scale(1 1.04)">Ph3</text>
<line x1="1026.43" y1="916.8" x2="1026.43" y2="924.85" stroke="#000" stroke-width="2.1"/>
<text font-size="13.7" class="b" text-anchor="middle" transform="translate(1026.33 938.77) scale(1 1.04)">Ph4</text>
<text font-size="15.6" class="m" text-anchor="middle" transform="translate(711.15 822.4) rotate(-90)">TPM value</text>
<rect x="760.07" y="693" width="19.93" height="7.93" fill="#FF8000"/>
<text font-size="13.54" transform="translate(791.14 701.57) scale(1 1.04)">Interferon regulatory factor 1 - irf1</text>
<rect x="760.93" y="712.29" width="19.93" height="7.93" fill="#0000FF"/>
<text font-size="13.72" transform="translate(792.21 720.86) scale(1 1.04)">Lnc_contig_42100</text>
</g>
<g id="c14">
<rect x="1121.71" y="890.14" width="9" height="27.94" fill="#FF8000"/>
<rect x="1157.56" y="896.14" width="9" height="21.94" fill="#FF8000"/>
<rect x="1170.85" y="909.43" width="9" height="8.66" fill="#0000FF"/>
<rect x="1193.41" y="903.86" width="9" height="14.23" fill="#FF8000"/>
<rect x="1229.26" y="907.93" width="9" height="10.16" fill="#FF8000"/>
<rect x="1242.54" y="901.5" width="9" height="16.59" fill="#0000FF"/>
<rect x="1265.1" y="865.07" width="9" height="53.01" fill="#FF8000"/>
<rect x="1278.39" y="896.14" width="9" height="21.94" fill="#0000FF"/>
<rect x="1300.95" y="871.07" width="9" height="47.01" fill="#FF8000"/>
<rect x="1314.23" y="768.86" width="9" height="149.23" fill="#0000FF"/>
<rect x="1336.8" y="832.07" width="9" height="86.01" fill="#FF8000"/>
<rect x="1350.08" y="791.14" width="9" height="126.94" fill="#0000FF"/>
<rect x="1372.64" y="874.07" width="9" height="44.01" fill="#FF8000"/>
<rect x="1385.93" y="884.14" width="9" height="33.94" fill="#0000FF"/>
<line x1="1117.02" y1="727.95" x2="1117.02" y2="918.09" stroke="#000" stroke-width="2.1"/>
<line x1="1109.1" y1="918.09" x2="1400.71" y2="918.09" stroke="#000" stroke-width="2.1"/>
<line x1="1109.1" y1="729" x2="1117.02" y2="729" stroke="#000" stroke-width="2.1"/>
<text font-size="13.9" class="b" text-anchor="end" transform="translate(1106.5 733.7) scale(1 1.04)">80</text>
<line x1="1109.1" y1="776.14" x2="1117.02" y2="776.14" stroke="#000" stroke-width="2.1"/>
<text font-size="13.9" class="b" text-anchor="end" transform="translate(1106.5 780.84) scale(1 1.04)">60</text>
<line x1="1109.1" y1="823.5" x2="1117.02" y2="823.5" stroke="#000" stroke-width="1.2"/>
<text font-size="13.9" class="b" text-anchor="end" transform="translate(1106.5 828.2) scale(1 1.04)">40</text>
<line x1="1109.1" y1="870.64" x2="1117.02" y2="870.64" stroke="#000" stroke-width="2.1"/>
<text font-size="13.9" class="b" text-anchor="end" transform="translate(1106.5 875.34) scale(1 1.04)">20</text>
<text font-size="13.9" class="b" text-anchor="end" transform="translate(1106.5 922.49) scale(1 1.04)">0</text>
<line x1="1132.86" y1="918.09" x2="1132.86" y2="926.14" stroke="#000" stroke-width="2.1"/>
<text font-size="13.7" class="b" text-anchor="middle" transform="translate(1132.06 939.84) scale(1 1.04)">C1</text>
<line x1="1168.43" y1="918.09" x2="1168.43" y2="926.14" stroke="#000" stroke-width="2.1"/>
<text font-size="13.7" class="b" text-anchor="middle" transform="translate(1167.63 939.84) scale(1 1.04)">C2</text>
<line x1="1204.21" y1="918.09" x2="1204.21" y2="926.14" stroke="#000" stroke-width="2.1"/>
<text font-size="13.7" class="b" text-anchor="middle" transform="translate(1203.41 939.84) scale(1 1.04)">C3</text>
<line x1="1240" y1="918.09" x2="1240" y2="926.14" stroke="#000" stroke-width="2.1"/>
<text font-size="13.7" class="b" text-anchor="middle" transform="translate(1239.2 939.84) scale(1 1.04)">C4</text>
<line x1="1276" y1="918.09" x2="1276" y2="926.14" stroke="#000" stroke-width="2.1"/>
<text font-size="13.7" class="b" text-anchor="middle" transform="translate(1275.9 939.84) scale(1 1.04)">Ph1</text>
<line x1="1312" y1="918.09" x2="1312" y2="926.14" stroke="#000" stroke-width="2.1"/>
<text font-size="13.7" class="b" text-anchor="middle" transform="translate(1311.9 939.84) scale(1 1.04)">Ph2</text>
<line x1="1347.79" y1="918.09" x2="1347.79" y2="926.14" stroke="#000" stroke-width="2.1"/>
<text font-size="13.7" class="b" text-anchor="middle" transform="translate(1347.69 939.84) scale(1 1.04)">Ph3</text>
<line x1="1383.57" y1="918.09" x2="1383.57" y2="926.14" stroke="#000" stroke-width="1.2"/>
<text font-size="13.7" class="b" text-anchor="middle" transform="translate(1383.47 939.84) scale(1 1.04)">Ph4</text>
<text font-size="15" class="bb" text-anchor="middle" transform="translate(1082.9 822.7) rotate(-90) scale(1 1.07)">TPM value</text>
<rect x="1115.5" y="694.5" width="19.93" height="7.93" fill="#FF8000"/>
<text font-size="13.72" transform="translate(1146.79 703.07) scale(1 1.04)">Suppressor of cytokine signaling 3 - LOC115571230</text>
<rect x="1115.5" y="714.86" width="19.93" height="7.93" fill="#0000FF"/>
<text font-size="13.65" transform="translate(1146.79 723.43) scale(1 1.04)">Lnc_contig_131954</text>
</g>
<g id="c15">
<rect x="1482.98" y="854.87" width="9.1" height="61.92" fill="#FF8000"/>
<rect x="1496.17" y="828.94" width="9.1" height="87.84" fill="#0000FF"/>
<rect x="1518.85" y="886.7" width="9.1" height="30.09" fill="#FF8000"/>
<rect x="1532.07" y="890.34" width="9.1" height="26.45" fill="#0000FF"/>
<rect x="1554.71" y="852.14" width="9.1" height="64.65" fill="#FF8000"/>
<rect x="1567.96" y="755.05" width="9.1" height="161.74" fill="#0000FF"/>
<rect x="1590.57" y="856.91" width="9.1" height="59.87" fill="#FF8000"/>
<rect x="1603.85" y="871.01" width="9.1" height="45.78" fill="#0000FF"/>
<rect x="1626.43" y="755.27" width="9.1" height="161.51" fill="#FF8000"/>
<rect x="1662.29" y="774.15" width="9.1" height="142.64" fill="#FF8000"/>
<rect x="1698.15" y="743.9" width="9.1" height="172.88" fill="#FF8000"/>
<rect x="1734.01" y="783.92" width="9.1" height="132.86" fill="#FF8000"/>
<line x1="1478.15" y1="726.71" x2="1478.15" y2="916.79" stroke="#000" stroke-width="2.1"/>
<line x1="1470.18" y1="916.79" x2="1761.75" y2="916.79" stroke="#000" stroke-width="2.1"/>
<line x1="1470.18" y1="727.76" x2="1478.15" y2="727.76" stroke="#000" stroke-width="2.1"/>
<text font-size="13.9" class="b" text-anchor="end" transform="translate(1467.58 732.46) scale(1 1.04)">300</text>
<line x1="1470.18" y1="759.59" x2="1478.15" y2="759.59" stroke="#000" stroke-width="2.1"/>
<text font-size="13.9" class="b" text-anchor="end" transform="translate(1467.58 764.29) scale(1 1.04)">250</text>
<line x1="1470.18" y1="790.97" x2="1478.15" y2="790.97" stroke="#000" stroke-width="2.1"/>
<text font-size="13.9" class="b" text-anchor="end" transform="translate(1467.58 795.67) scale(1 1.04)">200</text>
<line x1="1470.18" y1="822.58" x2="1478.15" y2="822.58" stroke="#000" stroke-width="1.2"/>
<text font-size="13.9" class="b" text-anchor="end" transform="translate(1467.58 827.28) scale(1 1.04)">150</text>
<line x1="1470.18" y1="853.96" x2="1478.15" y2="853.96" stroke="#000" stroke-width="2.1"/>
<text font-size="13.9" class="b" text-anchor="end" transform="translate(1467.58 858.66) scale(1 1.04)">100</text>
<line x1="1470.18" y1="885.11" x2="1478.15" y2="885.11" stroke="#000" stroke-width="2.1"/>
<text font-size="13.9" class="b" text-anchor="end" transform="translate(1467.58 889.81) scale(1 1.04)">50</text>
<text font-size="13.9" class="b" text-anchor="end" transform="translate(1467.58 921.19) scale(1 1.04)">0</text>
<line x1="1493.67" y1="916.79" x2="1493.67" y2="924.84" stroke="#000" stroke-width="2.1"/>
<text font-size="13.7" class="b" text-anchor="middle" transform="translate(1492.87 938.74) scale(1 1.04)">C1</text>
<line x1="1529.83" y1="916.79" x2="1529.83" y2="924.84" stroke="#000" stroke-width="2.1"/>
<text font-size="13.7" class="b" text-anchor="middle" transform="translate(1529.03 938.74) scale(1 1.04)">C2</text>
<line x1="1565.75" y1="916.79" x2="1565.75" y2="924.84" stroke="#000" stroke-width="1.2"/>
<text font-size="13.7" class="b" text-anchor="middle" transform="translate(1564.95 938.74) scale(1 1.04)">C3</text>
<line x1="1601" y1="916.79" x2="1601" y2="924.84" stroke="#000" stroke-width="2.1"/>
<text font-size="13.7" class="b" text-anchor="middle" transform="translate(1600.2 938.74) scale(1 1.04)">C4</text>
<line x1="1637.15" y1="916.79" x2="1637.15" y2="924.84" stroke="#000" stroke-width="2.1"/>
<text font-size="13.7" class="b" text-anchor="middle" transform="translate(1637.05 938.74) scale(1 1.04)">Ph1</text>
<line x1="1673.08" y1="916.79" x2="1673.08" y2="924.84" stroke="#000" stroke-width="2.1"/>
<text font-size="13.7" class="b" text-anchor="middle" transform="translate(1672.98 938.74) scale(1 1.04)">Ph2</text>
<line x1="1708.77" y1="916.79" x2="1708.77" y2="924.84" stroke="#000" stroke-width="2.1"/>
<text font-size="13.7" class="b" text-anchor="middle" transform="translate(1708.67 938.74) scale(1 1.04)">Ph3</text>
<line x1="1744.7" y1="916.79" x2="1744.7" y2="924.84" stroke="#000" stroke-width="2.1"/>
<text font-size="13.7" class="b" text-anchor="middle" transform="translate(1744.6 938.74) scale(1 1.04)">Ph4</text>
<text font-size="15" class="bb" text-anchor="middle" transform="translate(1436.5 821.8) rotate(-90) scale(1 1.07)">TPM value</text>
<rect x="1480.71" y="690.47" width="20.01" height="7.73" fill="#FF8000"/>
<text font-size="13.7" transform="translate(1511.63 699.11) scale(1 1.04)">Allograft inflammatory factor 1 - LOC115567498</text>
<rect x="1481.62" y="710.93" width="20.01" height="7.73" fill="#0000FF"/>
<text font-size="13.72" transform="translate(1512.77 719.57) scale(1 1.04)">Lnc_contig_75302</text>
</g>
<g id="c16">
<rect x="450.93" y="1197.86" width="9" height="13.16" fill="#FF8000"/>
<rect x="464" y="1117.5" width="9" height="93.51" fill="#0000FF"/>
<rect x="486.74" y="1190.36" width="9" height="20.66" fill="#FF8000"/>
<rect x="499.85" y="1117.07" width="9" height="93.94" fill="#0000FF"/>
<rect x="522.56" y="1191.86" width="9" height="19.16" fill="#FF8000"/>
<rect x="535.69" y="1095.43" width="9" height="115.59" fill="#0000FF"/>
<rect x="558.38" y="1187.14" width="9" height="23.87" fill="#FF8000"/>
<rect x="571.54" y="1111.5" width="9" height="99.51" fill="#0000FF"/>
<rect x="594.19" y="1143.21" width="9" height="67.8" fill="#FF8000"/>
<rect x="607.39" y="1047.43" width="9" height="163.59" fill="#0000FF"/>
<rect x="630.01" y="1159.07" width="9" height="51.94" fill="#FF8000"/>
<rect x="643.23" y="1033.71" width="9" height="177.3" fill="#0000FF"/>
<rect x="665.83" y="1064.36" width="9" height="146.66" fill="#FF8000"/>
<rect x="679.08" y="1119.64" width="9" height="91.37" fill="#0000FF"/>
<rect x="701.64" y="1159.29" width="9" height="51.73" fill="#FF8000"/>
<rect x="714.93" y="1030.29" width="9" height="180.73" fill="#0000FF"/>
<line x1="446.19" y1="1021.95" x2="446.19" y2="1211.01" stroke="#000" stroke-width="2.1"/>
<line x1="438.04" y1="1211.01" x2="729.71" y2="1211.01" stroke="#000" stroke-width="2.1"/>
<line x1="438.04" y1="1023" x2="446.19" y2="1023" stroke="#000" stroke-width="2.1"/>
<text font-size="13.9" class="b" text-anchor="end" transform="translate(435.44 1027.7) scale(1 1.04)">150</text>
<line x1="438.04" y1="1054.29" x2="446.19" y2="1054.29" stroke="#000" stroke-width="2.1"/>
<text font-size="13.9" class="b" text-anchor="end" transform="translate(435.44 1058.99) scale(1 1.04)">125</text>
<line x1="438.04" y1="1085.57" x2="446.19" y2="1085.57" stroke="#000" stroke-width="2.1"/>
<text font-size="13.9" class="b" text-anchor="end" transform="translate(435.44 1090.27) scale(1 1.04)">100</text>
<line x1="438.04" y1="1116.86" x2="446.19" y2="1116.86" stroke="#000" stroke-width="2.1"/>
<text font-size="13.9" class="b" text-anchor="end" transform="translate(435.44 1121.56) scale(1 1.04)">75</text>
<line x1="438.04" y1="1148.57" x2="446.19" y2="1148.57" stroke="#000" stroke-width="2.1"/>
<text font-size="13.9" class="b" text-anchor="end" transform="translate(435.44 1153.27) scale(1 1.04)">50</text>
<line x1="438.04" y1="1179.64" x2="446.19" y2="1179.64" stroke="#000" stroke-width="2.1"/>
<text font-size="13.9" class="b" text-anchor="end" transform="translate(435.44 1184.34) scale(1 1.04)">25</text>
<text font-size="13.9" class="b" text-anchor="end" transform="translate(435.44 1215.41) scale(1 1.04)">0</text>
<line x1="461.86" y1="1211.01" x2="461.86" y2="1219.06" stroke="#000" stroke-width="2.1"/>
<text font-size="13.7" class="b" text-anchor="middle" transform="translate(461.06 1233.84) scale(1 1.04)">C1</text>
<line x1="497.64" y1="1211.01" x2="497.64" y2="1219.06" stroke="#000" stroke-width="2.1"/>
<text font-size="13.7" class="b" text-anchor="middle" transform="translate(496.84 1233.84) scale(1 1.04)">C2</text>
<line x1="533.21" y1="1211.01" x2="533.21" y2="1219.06" stroke="#000" stroke-width="2.1"/>
<text font-size="13.7" class="b" text-anchor="middle" transform="translate(532.41 1233.84) scale(1 1.04)">C3</text>
<line x1="569" y1="1211.01" x2="569" y2="1219.06" stroke="#000" stroke-width="2.1"/>
<text font-size="13.7" class="b" text-anchor="middle" transform="translate(568.2 1233.84) scale(1 1.04)">C4</text>
<line x1="604.79" y1="1211.01" x2="604.79" y2="1219.06" stroke="#000" stroke-width="2.1"/>
<text font-size="13.7" class="b" text-anchor="middle" transform="translate(604.69 1233.84) scale(1 1.04)">Ph1</text>
<line x1="640.79" y1="1211.01" x2="640.79" y2="1219.06" stroke="#000" stroke-width="2.1"/>
<text font-size="13.7" class="b" text-anchor="middle" transform="translate(640.69 1233.84) scale(1 1.04)">Ph2</text>
<line x1="676.57" y1="1211.01" x2="676.57" y2="1219.06" stroke="#000" stroke-width="2.1"/>
<text font-size="13.7" class="b" text-anchor="middle" transform="translate(676.47 1233.84) scale(1 1.04)">Ph3</text>
<line x1="712.36" y1="1211.01" x2="712.36" y2="1219.06" stroke="#000" stroke-width="1.2"/>
<text font-size="13.7" class="b" text-anchor="middle" transform="translate(712.26 1233.84) scale(1 1.04)">Ph4</text>
<text font-size="15.6" class="m" text-anchor="middle" transform="translate(404.4 1117.4) rotate(-90)">TPM value</text>
<rect x="448.36" y="987.21" width="19.93" height="7.93" fill="#FF8000"/>
<text font-size="13.74" transform="translate(479.64 995.79) scale(1 1.04)">CD83 antigen - cd83</text>
<rect x="448.36" y="1005.86" width="19.93" height="7.93" fill="#0000FF"/>
<text font-size="13.67" transform="translate(479.64 1014.43) scale(1 1.04)">Lnc_contig_51494</text>
</g>
<g id="c17">
<rect x="1056.75" y="1110" width="9" height="101.05" fill="#FF8000"/>
<rect x="1070" y="1162.5" width="9" height="48.55" fill="#0000FF"/>
<rect x="1092.57" y="1099.5" width="9" height="111.55" fill="#FF8000"/>
<rect x="1105.82" y="1149.25" width="9" height="61.8" fill="#0000FF"/>
<rect x="1128.39" y="1089.5" width="9" height="121.55" fill="#FF8000"/>
<rect x="1141.64" y="1147.5" width="9" height="63.55" fill="#0000FF"/>
<rect x="1164.21" y="1050" width="9" height="161.05" fill="#FF8000"/>
<rect x="1177.46" y="1158.75" width="9" height="52.3" fill="#0000FF"/>
<rect x="1200.04" y="1142.25" width="9" height="68.8" fill="#FF8000"/>
<rect x="1213.29" y="1195.25" width="9" height="15.8" fill="#0000FF"/>
<rect x="1235.86" y="1132" width="9" height="79.05" fill="#FF8000"/>
<rect x="1249.11" y="1186.25" width="9" height="24.8" fill="#0000FF"/>
<rect x="1271.68" y="1158.75" width="9" height="52.3" fill="#FF8000"/>
<rect x="1284.93" y="1205.75" width="9" height="5.3" fill="#0000FF"/>
<rect x="1307.5" y="1136" width="9" height="75.05" fill="#FF8000"/>
<rect x="1320.75" y="1195.25" width="9" height="15.8" fill="#0000FF"/>
<line x1="1052.02" y1="1021.95" x2="1052.02" y2="1211.05" stroke="#000" stroke-width="2.1"/>
<line x1="1043.99" y1="1211.05" x2="1335.75" y2="1211.05" stroke="#000" stroke-width="2.1"/>
<line x1="1043.99" y1="1023" x2="1052.02" y2="1023" stroke="#000" stroke-width="2.1"/>
<text font-size="13.9" class="b" text-anchor="end" transform="translate(1041.39 1027.7) scale(1 1.04)">250</text>
<line x1="1043.99" y1="1061" x2="1052.02" y2="1061" stroke="#000" stroke-width="2.1"/>
<text font-size="13.9" class="b" text-anchor="end" transform="translate(1041.39 1065.7) scale(1 1.04)">200</text>
<line x1="1043.99" y1="1098" x2="1052.02" y2="1098" stroke="#000" stroke-width="2.1"/>
<text font-size="13.9" class="b" text-anchor="end" transform="translate(1041.39 1102.7) scale(1 1.04)">150</text>
<line x1="1043.99" y1="1135.75" x2="1052.02" y2="1135.75" stroke="#000" stroke-width="2.1"/>
<text font-size="13.9" class="b" text-anchor="end" transform="translate(1041.39 1140.45) scale(1 1.04)">100</text>
<line x1="1043.99" y1="1173.75" x2="1052.02" y2="1173.75" stroke="#000" stroke-width="2.1"/>
<text font-size="13.9" class="b" text-anchor="end" transform="translate(1041.39 1178.45) scale(1 1.04)">50</text>
<text font-size="13.9" class="b" text-anchor="end" transform="translate(1041.39 1215.45) scale(1 1.04)">0</text>
<line x1="1068" y1="1211.05" x2="1068" y2="1219.1" stroke="#000" stroke-width="2.1"/>
<text font-size="13.7" class="b" text-anchor="middle" transform="translate(1067.2 1233.45) scale(1 1.04)">C1</text>
<line x1="1103" y1="1211.05" x2="1103" y2="1219.1" stroke="#000" stroke-width="2.1"/>
<text font-size="13.7" class="b" text-anchor="middle" transform="translate(1102.2 1233.45) scale(1 1.04)">C2</text>
<line x1="1139" y1="1211.05" x2="1139" y2="1219.1" stroke="#000" stroke-width="2.1"/>
<text font-size="13.7" class="b" text-anchor="middle" transform="translate(1138.2 1233.45) scale(1 1.04)">C3</text>
<line x1="1174.75" y1="1211.05" x2="1174.75" y2="1219.1" stroke="#000" stroke-width="2.1"/>
<text font-size="13.7" class="b" text-anchor="middle" transform="translate(1173.95 1233.45) scale(1 1.04)">C4</text>
<line x1="1210.5" y1="1211.05" x2="1210.5" y2="1219.1" stroke="#000" stroke-width="2.1"/>
<text font-size="13.7" class="b" text-anchor="middle" transform="translate(1210.4 1233.45) scale(1 1.04)">Ph1</text>
<line x1="1246.5" y1="1211.05" x2="1246.5" y2="1219.1" stroke="#000" stroke-width="2.1"/>
<text font-size="13.7" class="b" text-anchor="middle" transform="translate(1246.4 1233.45) scale(1 1.04)">Ph2</text>
<line x1="1282.5" y1="1211.05" x2="1282.5" y2="1219.1" stroke="#000" stroke-width="2.1"/>
<text font-size="13.7" class="b" text-anchor="middle" transform="translate(1282.4 1233.45) scale(1 1.04)">Ph3</text>
<line x1="1318.25" y1="1211.05" x2="1318.25" y2="1219.1" stroke="#000" stroke-width="1.2"/>
<text font-size="13.7" class="b" text-anchor="middle" transform="translate(1318.15 1233.45) scale(1 1.04)">Ph4</text>
<text font-size="15.6" class="m" text-anchor="middle" transform="translate(1010.15 1117.4) rotate(-90)">TPM value</text>
<rect x="1055.5" y="982" width="20" height="8" fill="#FF8000"/>
<text font-size="13.71" transform="translate(1086.75 990.5) scale(1 1.04)">Macrophage receptor MARCO - LOC115588003</text>
<rect x="1055.5" y="1000.5" width="20" height="8" fill="#0000FF"/>
<text font-size="13.73" transform="translate(1086.75 1009) scale(1 1.04)">Lnc_contig_51449</text>
</g>
<text font-size="32" class="b" transform="translate(3.1 22.9) scale(1.06 1.04)">A</text>
<text font-size="32" class="b" transform="translate(449 1341.85) scale(1 1.04)">B</text>
<g id="tbl">
<rect x="506.5" y="1343.7" width="856" height="25.6" fill="#B4C6E7"/>
<rect x="993.4" y="1369.3" width="184.2" height="27.3" fill="#FCE4D6"/>
<rect x="506.5" y="1396.6" width="486.9" height="27.3" fill="#D9D9D9"/>
<rect x="506.5" y="1423.9" width="486.9" height="27.3" fill="#D9D9D9"/>
<rect x="993.4" y="1451.2" width="184.2" height="27.3" fill="#FCE4D6"/>
<rect x="1177.6" y="1451.2" width="184.9" height="27.3" fill="#FCE4D6"/>
<rect x="506.5" y="1478.5" width="486.9" height="27.3" fill="#D9D9D9"/>
<rect x="993.4" y="1505.8" width="184.2" height="27.3" fill="#FCE4D6"/>
<rect x="506.5" y="1533.1" width="486.9" height="27.3" fill="#D9D9D9"/>
<rect x="993.4" y="1560.4" width="184.2" height="27.3" fill="#FCE4D6"/>
<rect x="506.5" y="1587.7" width="486.9" height="27.3" fill="#D9D9D9"/>
<rect x="993.4" y="1615" width="184.2" height="27.3" fill="#FCE4D6"/>
<rect x="1177.6" y="1615" width="184.9" height="27.3" fill="#FCE4D6"/>
<rect x="506.5" y="1642.3" width="486.9" height="27.3" fill="#D9D9D9"/>
<rect x="993.4" y="1669.6" width="184.2" height="27.3" fill="#FCE4D6"/>
<rect x="506.5" y="1696.9" width="486.9" height="27.3" fill="#D9D9D9"/>
<rect x="993.4" y="1724.2" width="184.2" height="27.3" fill="#FCE4D6"/>
<rect x="1177.6" y="1724.2" width="184.9" height="27.3" fill="#FCE4D6"/>
<rect x="506.5" y="1751.5" width="486.9" height="27.3" fill="#D9D9D9"/>
<rect x="506.5" y="1778.8" width="486.9" height="27.3" fill="#D9D9D9"/>
<rect x="993.4" y="1806.1" width="184.2" height="27.3" fill="#FCE4D6"/>
<rect x="1177.6" y="1806.1" width="184.9" height="27.3" fill="#FCE4D6"/>
<rect x="506.5" y="1833.4" width="486.9" height="27.3" fill="#D9D9D9"/>
<rect x="993.4" y="1860.7" width="184.2" height="27.3" fill="#FCE4D6"/>
<rect x="506.5" y="1888" width="486.9" height="27.3" fill="#D9D9D9"/>
<rect x="993.4" y="1915.3" width="184.2" height="27.3" fill="#FCE4D6"/>
<rect x="506.5" y="1942.6" width="486.9" height="27.3" fill="#D9D9D9"/>
<rect x="993.4" y="1969.9" width="184.2" height="27.3" fill="#FCE4D6"/>
<rect x="506.5" y="1997.2" width="486.9" height="27.3" fill="#D9D9D9"/>
<rect x="993.4" y="2024.5" width="184.2" height="27.3" fill="#FCE4D6"/>
<rect x="1177.6" y="2024.5" width="184.9" height="27.3" fill="#FCE4D6"/>
<rect x="506.5" y="2051.8" width="486.9" height="27.3" fill="#D9D9D9"/>
<rect x="993.4" y="2079.1" width="184.2" height="27.3" fill="#FCE4D6"/>
<rect x="506.5" y="2106.4" width="486.9" height="27.3" fill="#D9D9D9"/>
<rect x="993.4" y="2133.7" width="184.2" height="27.3" fill="#FCE4D6"/>
<rect x="506.5" y="2161" width="486.9" height="27.3" fill="#D9D9D9"/>
<rect x="993.4" y="2188.3" width="184.2" height="27.3" fill="#FCE4D6"/>
<rect x="506.5" y="2215.6" width="486.9" height="27.3" fill="#D9D9D9"/>
<rect x="993.4" y="2242.9" width="184.2" height="27.3" fill="#FCE4D6"/>
<rect x="506.5" y="2270.2" width="486.9" height="27.3" fill="#D9D9D9"/>
<rect x="993.4" y="2297.5" width="184.2" height="27.3" fill="#FCE4D6"/>
<rect x="506.5" y="2324.8" width="486.9" height="27.3" fill="#D9D9D9"/>
<line x1="505.15" y1="1343.7" x2="1363.85" y2="1343.7" stroke="#000" stroke-width="2.7"/>
<line x1="505.15" y1="1369.3" x2="1363.85" y2="1369.3" stroke="#000" stroke-width="2.7"/>
<line x1="505.15" y1="1396.6" x2="1178.9" y2="1396.6" stroke="#000" stroke-width="2.7"/>
<line x1="505.15" y1="1423.9" x2="1178.9" y2="1423.9" stroke="#000" stroke-width="2"/>
<line x1="505.15" y1="1451.2" x2="1363.85" y2="1451.2" stroke="#000" stroke-width="2.7"/>
<line x1="505.15" y1="1478.5" x2="1363.85" y2="1478.5" stroke="#000" stroke-width="2.7"/>
<line x1="505.15" y1="1505.8" x2="1363.85" y2="1505.8" stroke="#000" stroke-width="2.7"/>
<line x1="505.15" y1="1533.1" x2="1178.9" y2="1533.1" stroke="#000" stroke-width="2.7"/>
<line x1="505.15" y1="1560.4" x2="1178.9" y2="1560.4" stroke="#000" stroke-width="2.7"/>
<line x1="505.15" y1="1587.7" x2="1178.9" y2="1587.7" stroke="#000" stroke-width="2.7"/>
<line x1="505.15" y1="1615" x2="1363.85" y2="1615" stroke="#000" stroke-width="2.7"/>
<line x1="505.15" y1="1642.3" x2="1363.85" y2="1642.3" stroke="#000" stroke-width="2.7"/>
<line x1="505.15" y1="1669.6" x2="1363.85" y2="1669.6" stroke="#000" stroke-width="2.7"/>
<line x1="505.15" y1="1696.9" x2="1178.9" y2="1696.9" stroke="#000" stroke-width="2.7"/>
<line x1="505.15" y1="1724.2" x2="1363.85" y2="1724.2" stroke="#000" stroke-width="2.7"/>
<line x1="505.15" y1="1751.5" x2="1363.85" y2="1751.5" stroke="#000" stroke-width="2.7"/>
<line x1="505.15" y1="1778.8" x2="1363.85" y2="1778.8" stroke="#000" stroke-width="2"/>
<line x1="505.15" y1="1806.1" x2="1363.85" y2="1806.1" stroke="#000" stroke-width="2.7"/>
<line x1="505.15" y1="1833.4" x2="1363.85" y2="1833.4" stroke="#000" stroke-width="2.7"/>
<line x1="505.15" y1="1860.7" x2="1363.85" y2="1860.7" stroke="#000" stroke-width="2.7"/>
<line x1="505.15" y1="1888" x2="1178.9" y2="1888" stroke="#000" stroke-width="2.7"/>
<line x1="505.15" y1="1915.3" x2="1178.9" y2="1915.3" stroke="#000" stroke-width="2.7"/>
<line x1="505.15" y1="1942.6" x2="1178.9" y2="1942.6" stroke="#000" stroke-width="2.7"/>
<line x1="505.15" y1="1969.9" x2="1178.9" y2="1969.9" stroke="#000" stroke-width="2.7"/>
<line x1="505.15" y1="1997.2" x2="1178.9" y2="1997.2" stroke="#000" stroke-width="2.7"/>
<line x1="505.15" y1="2024.5" x2="1363.85" y2="2024.5" stroke="#000" stroke-width="2.7"/>
<line x1="505.15" y1="2051.8" x2="1363.85" y2="2051.8" stroke="#000" stroke-width="2.7"/>
<line x1="505.15" y1="2079.1" x2="1363.85" y2="2079.1" stroke="#000" stroke-width="2.7"/>
<line x1="505.15" y1="2106.4" x2="1178.9" y2="2106.4" stroke="#000" stroke-width="2.7"/>
<line x1="505.15" y1="2133.7" x2="1178.9" y2="2133.7" stroke="#000" stroke-width="2.7"/>
<line x1="505.15" y1="2161" x2="1178.9" y2="2161" stroke="#000" stroke-width="2.7"/>
<line x1="505.15" y1="2188.3" x2="1178.9" y2="2188.3" stroke="#000" stroke-width="2.7"/>
<line x1="505.15" y1="2215.6" x2="1178.9" y2="2215.6" stroke="#000" stroke-width="2.7"/>
<line x1="505.15" y1="2242.9" x2="1178.9" y2="2242.9" stroke="#000" stroke-width="2.7"/>
<line x1="505.15" y1="2270.2" x2="1178.9" y2="2270.2" stroke="#000" stroke-width="2.7"/>
<line x1="505.15" y1="2297.5" x2="1178.9" y2="2297.5" stroke="#000" stroke-width="2.7"/>
<line x1="505.15" y1="2324.8" x2="1178.9" y2="2324.8" stroke="#000" stroke-width="2.7"/>
<line x1="505.15" y1="2351.5" x2="1178.9" y2="2351.5" stroke="#000" stroke-width="2.7"/>
<line x1="506.5" y1="1343.7" x2="506.5" y2="2352.1" stroke="#000" stroke-width="2.7"/>
<line x1="993.4" y1="1369.3" x2="993.4" y2="2352.1" stroke="#000" stroke-width="2.7"/>
<line x1="1177.6" y1="1369.3" x2="1177.6" y2="2352.1" stroke="#000" stroke-width="2.6"/>
<line x1="1362.5" y1="1343.7" x2="1362.5" y2="1369.3" stroke="#000" stroke-width="2.7"/>
<line x1="1362.5" y1="1451.2" x2="1362.5" y2="1505.8" stroke="#000" stroke-width="2.7"/>
<line x1="1362.5" y1="1615" x2="1362.5" y2="1669.6" stroke="#000" stroke-width="2.7"/>
<line x1="1362.5" y1="1724.2" x2="1362.5" y2="1860.7" stroke="#000" stroke-width="2.7"/>
<line x1="1362.5" y1="2024.5" x2="1362.5" y2="2079.1" stroke="#000" stroke-width="2.7"/>
<text font-size="19.3" class="b" text-anchor="middle" transform="translate(938.3 1363.3) scale(1 1.03)">Spearman&#39;s correlation coefficient (<tspan font-style="italic">ρ</tspan>)</text>
<text font-size="18.7" class="b" text-anchor="middle" transform="translate(1087.5 1389.4) scale(1 1.03)">Lnc_contig_230261</text>
<text font-size="19.09" class="b" text-anchor="middle" transform="translate(750.45 1416.7) scale(1 1.03)">Hepcidin - LOC115567001</text>
<text font-size="18.9" text-anchor="middle" transform="translate(1087.5 1416.7) scale(1 1.03)">0.683 (*)</text>
<text font-size="19.16" class="b" text-anchor="middle" transform="translate(750.45 1444) scale(1 1.03)">Hepcidin - LOC115567003</text>
<text font-size="18.9" text-anchor="middle" transform="translate(1087.5 1444) scale(1 1.03)">0.778 (*)</text>
<text font-size="18.7" class="b" text-anchor="middle" transform="translate(1087.5 1471.3) scale(1 1.03)">Lnc_contig_87998</text>
<text font-size="18.7" class="b" text-anchor="middle" transform="translate(1272.2 1471.3) scale(1 1.03)">Lnc_contig_141844</text>
<text font-size="19.46" class="b" text-anchor="middle" transform="translate(750.45 1498.6) scale(1 1.03)">Transferrin receptor protein 1 - LOC115570198</text>
<text font-size="18.9" text-anchor="middle" transform="translate(1087.5 1498.6) scale(1 1.03)">0.905 (**)</text>
<text font-size="18.9" text-anchor="middle" transform="translate(1272.2 1498.6) scale(1 1.03)">0.786 (*)</text>
<text font-size="18.7" class="b" text-anchor="middle" transform="translate(1087.5 1525.9) scale(1 1.03)">Lnc_contig_92496</text>
<text font-size="19.04" class="b" text-anchor="middle" transform="translate(750.45 1553.2) scale(1 1.03)">Complement component C7 - c7</text>
<text font-size="18.9" text-anchor="middle" transform="translate(1087.5 1553.2) scale(1 1.03)">0.786 (*)</text>
<text font-size="18.7" class="b" text-anchor="middle" transform="translate(1087.5 1580.5) scale(1 1.03)">Lnc_contig_19125</text>
<text font-size="19.04" class="b" text-anchor="middle" transform="translate(750.45 1607.8) scale(1 1.03)">Complement component C9 - c9</text>
<text font-size="18.9" text-anchor="middle" transform="translate(1087.5 1607.8) scale(1 1.03)">-0.762 (*)</text>
<text font-size="18.7" class="b" text-anchor="middle" transform="translate(1087.5 1635.1) scale(1 1.03)">Lnc_contig_109665</text>
<text font-size="18.7" class="b" text-anchor="middle" transform="translate(1272.2 1635.1) scale(1 1.03)">Lnc_contig_54554</text>
<text font-size="19.34" class="b" text-anchor="middle" transform="translate(750.45 1662.4) scale(1 1.03)">Toll-like receptor 13 - LOC115570502</text>
<text font-size="18.9" text-anchor="middle" transform="translate(1087.5 1662.4) scale(1 1.03)">0.905 (**)</text>
<text font-size="18.9" text-anchor="middle" transform="translate(1272.2 1662.4) scale(1 1.03)">0.69 (ns)</text>
<text font-size="18.7" class="b" text-anchor="middle" transform="translate(1087.5 1689.7) scale(1 1.03)">Lnc_contig_222097</text>
<text font-size="19.31" class="b" text-anchor="middle" transform="translate(750.45 1717) scale(1 1.03)">Interleukin-1 beta - LOC115581181</text>
<text font-size="18.9" text-anchor="middle" transform="translate(1087.5 1717) scale(1 1.03)">0.756 (*)</text>
<text font-size="18.7" class="b" text-anchor="middle" transform="translate(1087.5 1744.3) scale(1 1.03)">Lnc_contig_57825</text>
<text font-size="18.7" class="b" text-anchor="middle" transform="translate(1272.2 1744.3) scale(1 1.03)">Lnc_contig_242243</text>
<text font-size="19.12" class="b" text-anchor="middle" transform="translate(750.45 1771.6) scale(1 1.03)">C-C motif chemokine 19 - LOC115581095</text>
<text font-size="18.9" text-anchor="middle" transform="translate(1087.5 1771.6) scale(1 1.03)">0.881 (**)</text>
<text font-size="18.9" text-anchor="middle" transform="translate(1272.2 1771.6) scale(1 1.03)">0.81 (*)</text>
<text font-size="19.12" class="b" text-anchor="middle" transform="translate(750.45 1798.9) scale(1 1.03)">C-C motif chemokine 20 - LOC115582042</text>
<text font-size="18.9" text-anchor="middle" transform="translate(1087.5 1798.9) scale(1 1.03)">0.738 (*)</text>
<text font-size="18.9" text-anchor="middle" transform="translate(1272.2 1798.9) scale(1 1.03)">0.714 (ns)</text>
<text font-size="18.7" class="b" text-anchor="middle" transform="translate(1087.5 1826.2) scale(1 1.03)">Lnc_contig_35422</text>
<text font-size="18.7" class="b" text-anchor="middle" transform="translate(1272.2 1826.2) scale(1 1.03)">Lnc_contig_19464</text>
<text font-size="19.29" class="b" text-anchor="middle" transform="translate(750.45 1853.5) scale(1 1.03)">C-C chemokine receptor type 3 - LOC115569677</text>
<text font-size="18.9" text-anchor="middle" transform="translate(1087.5 1853.5) scale(1 1.03)">0.786 (*)</text>
<text font-size="18.9" text-anchor="middle" transform="translate(1272.2 1853.5) scale(1 1.03)">0.786 (*)</text>
<text font-size="18.7" class="b" text-anchor="middle" transform="translate(1087.5 1880.8) scale(1 1.03)">Lnc_contig_31794</text>
<text font-size="19.39" class="b" text-anchor="middle" transform="translate(750.45 1908.1) scale(1 1.03)">Chemokine-like receptor 1 - LOC115567111</text>
<text font-size="18.9" text-anchor="middle" transform="translate(1087.5 1908.1) scale(1 1.03)">0.833 (*)</text>
<text font-size="18.7" class="b" text-anchor="middle" transform="translate(1087.5 1935.4) scale(1 1.03)">Lnc_contig_101444</text>
<text font-size="19.11" class="b" text-anchor="middle" transform="translate(750.45 1962.7) scale(1 1.03)">Lymphocyte antigen 6C2 - LOC115581133</text>
<text font-size="18.9" text-anchor="middle" transform="translate(1087.5 1962.7) scale(1 1.03)">0.762 (*)</text>
<text font-size="18.7" class="b" text-anchor="middle" transform="translate(1087.5 1990) scale(1 1.03)">Lnc_contig_88688</text>
<text font-size="19.23" class="b" text-anchor="middle" transform="translate(750.45 2017.3) scale(1 1.03)">Antigen peptide transporter 1 - LOC115566861</text>
<text font-size="18.9" text-anchor="middle" transform="translate(1087.5 2017.3) scale(1 1.03)">0.952 (**)</text>
<text font-size="18.7" class="b" text-anchor="middle" transform="translate(1087.5 2044.6) scale(1 1.03)">Lnc_contig_113592</text>
<text font-size="18.7" class="b" text-anchor="middle" transform="translate(1272.2 2044.6) scale(1 1.03)">Lnc_contig_127455</text>
<text font-size="19.23" class="b" text-anchor="middle" transform="translate(750.45 2071.9) scale(1 1.03)">Antigen peptide transporter 1 - LOC115566623</text>
<text font-size="18.9" text-anchor="middle" transform="translate(1087.5 2071.9) scale(1 1.03)">0.857 (*)</text>
<text font-size="18.9" text-anchor="middle" transform="translate(1272.2 2071.9) scale(1 1.03)">0.786 (*)</text>
<text font-size="18.7" class="b" text-anchor="middle" transform="translate(1087.5 2099.2) scale(1 1.03)">Lnc_contig_42100</text>
<text font-size="19.23" class="b" text-anchor="middle" transform="translate(750.45 2126.5) scale(1 1.03)">Interferon regulatory factor 1 - irf1</text>
<text font-size="18.9" text-anchor="middle" transform="translate(1087.5 2126.5) scale(1 1.03)">0.738 (*)</text>
<text font-size="18.7" class="b" text-anchor="middle" transform="translate(1087.5 2153.8) scale(1 1.03)">Lnc_contig_131954</text>
<text font-size="19.08" class="b" text-anchor="middle" transform="translate(750.45 2181.1) scale(1 1.03)">Suppressor of cytokine signaling 3 - LOC115571230</text>
<text font-size="18.9" text-anchor="middle" transform="translate(1087.5 2181.1) scale(1 1.03)">0.695 (ns)</text>
<text font-size="18.7" class="b" text-anchor="middle" transform="translate(1087.5 2208.4) scale(1 1.03)">Lnc_contig_75302</text>
<text font-size="18.81" class="b" text-anchor="middle" transform="translate(750.45 2235.7) scale(1 1.03)">Allograft inflammatory factor 1 - LOC115567498</text>
<text font-size="18.9" text-anchor="middle" transform="translate(1087.5 2235.7) scale(1 1.03)">-0.685 (ns)</text>
<text font-size="18.7" class="b" text-anchor="middle" transform="translate(1087.5 2263) scale(1 1.03)">Lnc_contig_51494</text>
<text font-size="19.08" class="b" text-anchor="middle" transform="translate(750.45 2290.3) scale(1 1.03)">CD83 antigen - cd83</text>
<text font-size="18.9" text-anchor="middle" transform="translate(1087.5 2290.3) scale(1 1.03)">0.167 (ns)</text>
<text font-size="18.7" class="b" text-anchor="middle" transform="translate(1087.5 2317.6) scale(1 1.03)">Lnc_contig_51449</text>
<text font-size="19.34" class="b" text-anchor="middle" transform="translate(750.45 2344.9) scale(1 1.03)">Macrophage receptor MARCO - LOC115588003</text>
<text font-size="18.9" text-anchor="middle" transform="translate(1087.5 2344.9) scale(1 1.03)">0.905 (**)</text>
</g>
</svg>
</body></html>
